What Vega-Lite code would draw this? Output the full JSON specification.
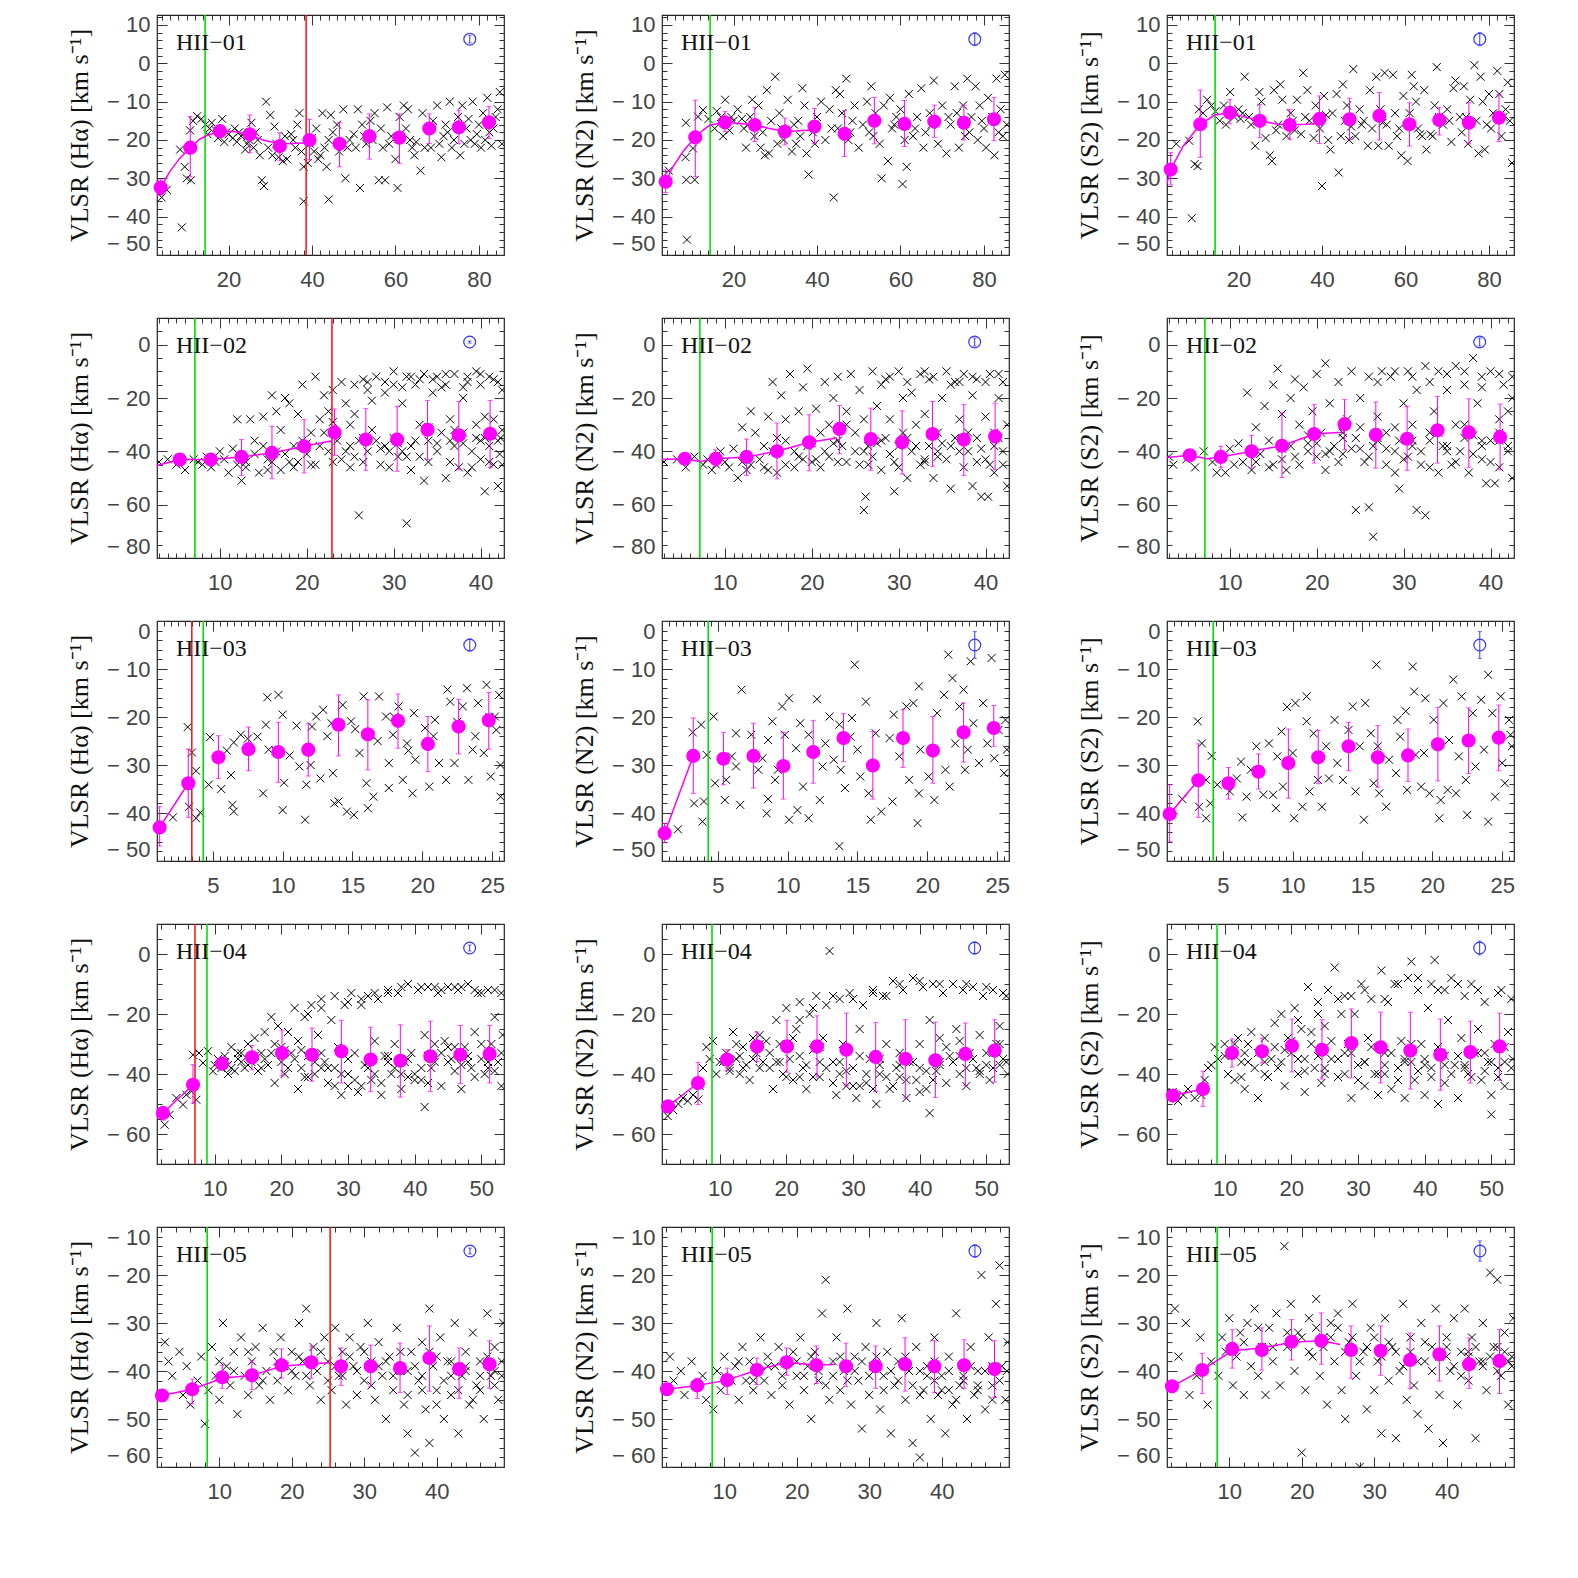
{
"$schema":"https://vega.github.io/schema/vega-lite/v6.json",
"autosize":{"type":"none"},
"padding":{"left":157,"top":15,"right":1421,"bottom":1563},
"background":"white",
"columns":3,
"spacing":{"row":63,"column":158},
"bounds":"flush",
"datasets":{
"s11":[{"x":4,"y":-35},{"x":5.2,"y":-33},{"x":8.8,"y":-42.8},{"x":8.4,"y":-22.5},{"x":9.5,"y":-27},{"x":10,"y":-30},{"x":11,"y":-30.5},{"x":10.8,"y":-17.5},{"x":11.5,"y":-15},{"x":12.5,"y":-13.8},{"x":13.5,"y":-14.5},{"x":14.5,"y":-16},{"x":15.5,"y":-17},{"x":16,"y":-15.5},{"x":17,"y":-17.5},{"x":18.5,"y":-14.5},{"x":19,"y":-20.5},{"x":20,"y":-18.5},{"x":21,"y":-19.5},{"x":21.5,"y":-17},{"x":22.5,"y":-18},{"x":23,"y":-19},{"x":24,"y":-22.5},{"x":24.5,"y":-21},{"x":25.5,"y":-15.5},{"x":26,"y":-22},{"x":27,"y":-20},{"x":28,"y":-30.5},{"x":28.5,"y":-32},{"x":29,"y":-10},{"x":30,"y":-13.5},{"x":30.5,"y":-24},{"x":31,"y":-16.5},{"x":32,"y":-24.5},{"x":33,"y":-25.5},{"x":34,"y":-25},{"x":35,"y":-18.5},{"x":35.5,"y":-20},{"x":36.5,"y":-16},{"x":37,"y":-13},{"x":37.5,"y":-23},{"x":38,"y":-27},{"x":38,"y":-36},{"x":39,"y":-26},{"x":40,"y":-19.5},{"x":40.5,"y":-23},{"x":41,"y":-17},{"x":42,"y":-24},{"x":42.5,"y":-13},{"x":43,"y":-22},{"x":43.5,"y":-27},{"x":44,"y":-35.5},{"x":44.5,"y":-13.5},{"x":45,"y":-18},{"x":46,"y":-16},{"x":46.5,"y":-23},{"x":47.5,"y":-12},{"x":48,"y":-30},{"x":48.5,"y":-22},{"x":50,"y":-18.5},{"x":51,"y":-12},{"x":51.5,"y":-32.5},{"x":52,"y":-16},{"x":53,"y":-21},{"x":54,"y":-15},{"x":55,"y":-13},{"x":56,"y":-30.5},{"x":56.5,"y":-17},{"x":57,"y":-22},{"x":57.5,"y":-30.5},{"x":58,"y":-11.5},{"x":59,"y":-19},{"x":60,"y":-25},{"x":60.5,"y":-32.5},{"x":61,"y":-14},{"x":62,"y":-11},{"x":62.5,"y":-17},{"x":63,"y":-12},{"x":64,"y":-22},{"x":64.5,"y":-24},{"x":65,"y":-20.5},{"x":66,"y":-28},{"x":66.5,"y":-13},{"x":67,"y":-22},{"x":68,"y":-17},{"x":69,"y":-15},{"x":70,"y":-11},{"x":71,"y":-24.5},{"x":71.5,"y":-19},{"x":72,"y":-16},{"x":73,"y":-10},{"x":73.5,"y":-22},{"x":74,"y":-20},{"x":75,"y":-14},{"x":75.5,"y":-24},{"x":76,"y":-11},{"x":77,"y":-17},{"x":77.5,"y":-14.5},{"x":78,"y":-20},{"x":78.5,"y":-10},{"x":79,"y":-21},{"x":80,"y":-16},{"x":80.5,"y":-22},{"x":81,"y":-13},{"x":82,"y":-9},{"x":82.5,"y":-18},{"x":83,"y":-21.5},{"x":84,"y":-14},{"x":84.5,"y":-12},{"x":85,"y":-7.5},{"x":85.5,"y":-21},{"x":15,"y":-18.5},{"x":17.5,"y":-19.5},{"x":19.5,"y":-18},{"x":22,"y":-20.5},{"x":25,"y":-20},{"x":26.5,"y":-18},{"x":27.5,"y":-24},{"x":29.5,"y":-22},{"x":31.5,"y":-21},{"x":33.5,"y":-19},{"x":36,"y":-22},{"x":39.5,"y":-21},{"x":41.5,"y":-25},{"x":44,"y":-20},{"x":47,"y":-21},{"x":49,"y":-20},{"x":50.5,"y":-22},{"x":52.5,"y":-19},{"x":54.5,"y":-20},{"x":58.5,"y":-21},{"x":63.5,"y":-20},{"x":68.5,"y":-22},{"x":70.5,"y":-21},{"x":72.5,"y":-18},{"x":76.5,"y":-21},{"x":79.5,"y":-18.5},{"x":81.5,"y":-20},{"x":83.5,"y":-17}],
"s12":[{"x":4.5,"y":-28},{"x":8.5,"y":-24.5},{"x":8.7,"y":-30.4},{"x":8.85,"y":-46},{"x":8.6,"y":-15.5},{"x":10.3,"y":-22.2},{"x":10.7,"y":-30.4},{"x":11.5,"y":-13.9},{"x":12.7,"y":-12.2},{"x":14,"y":-14.5},{"x":15.5,"y":-17},{"x":16,"y":-12.5},{"x":17,"y":-14},{"x":17.5,"y":-19},{"x":18,"y":-9.5},{"x":19,"y":-17.5},{"x":20,"y":-15},{"x":21,"y":-12},{"x":22,"y":-14.5},{"x":22.5,"y":-17},{"x":23,"y":-22},{"x":24,"y":-14},{"x":24.5,"y":-9.5},{"x":25,"y":-19},{"x":26,"y":-11},{"x":26.5,"y":-22},{"x":27.5,"y":-24},{"x":28,"y":-7},{"x":28.5,"y":-23.5},{"x":29,"y":-15},{"x":30,"y":-3.5},{"x":30.5,"y":-21},{"x":31,"y":-13},{"x":32,"y":-20},{"x":33,"y":-9.5},{"x":34,"y":-23},{"x":34.5,"y":-16},{"x":35,"y":-21},{"x":36,"y":-19},{"x":36.5,"y":-6.5},{"x":37,"y":-11},{"x":37.5,"y":-23.5},{"x":38,"y":-29},{"x":39,"y":-18},{"x":40,"y":-14},{"x":41,"y":-10},{"x":42,"y":-20},{"x":43,"y":-12},{"x":44,"y":-35},{"x":44.5,"y":-7},{"x":45,"y":-17},{"x":45.5,"y":-8},{"x":46,"y":-13},{"x":47,"y":-4},{"x":47.5,"y":-20},{"x":48,"y":-18},{"x":49,"y":-11},{"x":50,"y":-22},{"x":51,"y":-16},{"x":52,"y":-10},{"x":53,"y":-6},{"x":53.5,"y":-19},{"x":54,"y":-13},{"x":55,"y":-21},{"x":55.5,"y":-30},{"x":56,"y":-11},{"x":57,"y":-25.5},{"x":57.5,"y":-9},{"x":58,"y":-17},{"x":59,"y":-14},{"x":60,"y":-12},{"x":60.5,"y":-31.5},{"x":61,"y":-20},{"x":61.5,"y":-27},{"x":62,"y":-8},{"x":63,"y":-19},{"x":64,"y":-14},{"x":65,"y":-6.5},{"x":65.5,"y":-22},{"x":66,"y":-18},{"x":67,"y":-13},{"x":68,"y":-4.5},{"x":69,"y":-21},{"x":70,"y":-11},{"x":71,"y":-23.5},{"x":72,"y":-16},{"x":73,"y":-6},{"x":73.5,"y":-13},{"x":74,"y":-22},{"x":75,"y":-11},{"x":76,"y":-4},{"x":76.5,"y":-18},{"x":77,"y":-14},{"x":78,"y":-6},{"x":78.5,"y":-20},{"x":79,"y":-11},{"x":80,"y":-17},{"x":80.5,"y":-22},{"x":81,"y":-9},{"x":82,"y":-14},{"x":82.5,"y":-24},{"x":83,"y":-4},{"x":84,"y":-12},{"x":84.5,"y":-19},{"x":85,"y":-3},{"x":85.5,"y":-16},{"x":19.5,"y":-14},{"x":23.5,"y":-16},{"x":27,"y":-18},{"x":31.5,"y":-17},{"x":35.5,"y":-15},{"x":39.5,"y":-21},{"x":43.5,"y":-17},{"x":48.5,"y":-15},{"x":52.5,"y":-18},{"x":58.5,"y":-16},{"x":63.5,"y":-17},{"x":67.5,"y":-16},{"x":71.5,"y":-14},{"x":75.5,"y":-19},{"x":79.5,"y":-15},{"x":83.5,"y":-18}],
"s13":[{"x":5.1,"y":-21},{"x":8.2,"y":-20.2},{"x":8.8,"y":-40.4},{"x":9.5,"y":-26.3},{"x":10.2,"y":-26.8},{"x":10.5,"y":-12},{"x":11.5,"y":-13},{"x":12.5,"y":-9.5},{"x":13.5,"y":-11},{"x":14.5,"y":-12.5},{"x":15.5,"y":-15},{"x":16.5,"y":-11},{"x":17,"y":-16},{"x":18,"y":-7.5},{"x":19,"y":-14},{"x":20,"y":-12},{"x":21,"y":-13},{"x":21.5,"y":-3.5},{"x":22.5,"y":-14},{"x":23,"y":-16},{"x":24,"y":-21.5},{"x":25,"y":-7.5},{"x":25.5,"y":-10},{"x":26.5,"y":-19.5},{"x":27.5,"y":-24},{"x":28,"y":-25.5},{"x":28.5,"y":-7},{"x":29,"y":-17.5},{"x":30,"y":-5.5},{"x":30.5,"y":-9.5},{"x":31.5,"y":-19},{"x":32.5,"y":-13},{"x":33.5,"y":-17.5},{"x":34,"y":-9.5},{"x":35,"y":-18.5},{"x":35.5,"y":-2.5},{"x":36.5,"y":-7},{"x":37,"y":-15},{"x":38,"y":-19.5},{"x":38.5,"y":-11},{"x":39.5,"y":-17},{"x":40,"y":-32},{"x":40.5,"y":-8.5},{"x":41.5,"y":-20},{"x":42,"y":-22.5},{"x":42.5,"y":-13},{"x":43.5,"y":-8},{"x":44,"y":-28.5},{"x":44.5,"y":-19},{"x":45,"y":-5.5},{"x":46,"y":-11},{"x":46.5,"y":-20},{"x":47,"y":-16.5},{"x":47.5,"y":-1.5},{"x":48,"y":-19},{"x":49,"y":-12},{"x":50,"y":-15},{"x":51,"y":-21.5},{"x":51.5,"y":-7},{"x":52,"y":-17},{"x":53,"y":-3.5},{"x":53.5,"y":-21.5},{"x":54,"y":-12},{"x":55,"y":-2.5},{"x":55.5,"y":-16},{"x":56,"y":-21.5},{"x":57,"y":-3},{"x":57.5,"y":-13},{"x":58,"y":-19},{"x":59,"y":-24},{"x":59.5,"y":-8.5},{"x":60.5,"y":-25.5},{"x":61,"y":-13},{"x":61.5,"y":-3},{"x":62,"y":-6},{"x":62.5,"y":-10},{"x":63,"y":-17},{"x":64,"y":-19},{"x":64.5,"y":-7},{"x":65,"y":-22.5},{"x":66,"y":-18.5},{"x":67,"y":-11},{"x":67.5,"y":-1},{"x":68,"y":-14},{"x":69,"y":-16},{"x":70,"y":-12},{"x":71,"y":-20.5},{"x":71.5,"y":-6.5},{"x":72,"y":-4.5},{"x":73,"y":-14},{"x":73.5,"y":-18},{"x":74,"y":-6},{"x":75,"y":-21},{"x":75.5,"y":-9.5},{"x":76.5,"y":-0.5},{"x":77,"y":-15},{"x":77.5,"y":-23.5},{"x":78,"y":-3.5},{"x":78.5,"y":-10},{"x":79,"y":-22.5},{"x":80,"y":-8},{"x":80.5,"y":-17},{"x":81,"y":-13},{"x":82,"y":-2},{"x":82.5,"y":-8},{"x":83,"y":-19},{"x":84,"y":-12},{"x":84.5,"y":-5},{"x":85,"y":-15},{"x":85.5,"y":-26},{"x":20.5,"y":-14.5},{"x":24.5,"y":-15},{"x":29.5,"y":-16},{"x":33,"y":-15},{"x":36,"y":-14},{"x":41,"y":-13.5},{"x":45.5,"y":-15},{"x":49.5,"y":-16},{"x":54.5,"y":-15.5},{"x":58.5,"y":-17},{"x":63.5,"y":-18.5},{"x":66.5,"y":-19},{"x":70.5,"y":-15},{"x":74.5,"y":-14},{"x":79.5,"y":-16},{"x":83.5,"y":-14}],
"s21":[{"x":3,"y":-44},{"x":4,"y":-43},{"x":5,"y":-45},{"x":6,"y":-47},{"x":7,"y":-43},{"x":7.5,"y":-44},{"x":8,"y":-45},{"x":8.5,"y":-42},{"x":9,"y":-46},{"x":9.5,"y":-44},{"x":10,"y":-40},{"x":10.5,"y":-43},{"x":11,"y":-48},{"x":11.5,"y":-39},{"x":12,"y":-45},{"x":12.5,"y":-51},{"x":12,"y":-28},{"x":13,"y":-44},{"x":13.5,"y":-28},{"x":14,"y":-36},{"x":14.5,"y":-48},{"x":15,"y":-27},{"x":15.5,"y":-43},{"x":15.5,"y":-47},{"x":16,"y":-19},{"x":16.5,"y":-25},{"x":17,"y":-47},{"x":17,"y":-32},{"x":17.5,"y":-20},{"x":18,"y":-22},{"x":18.5,"y":-38},{"x":19,"y":-26},{"x":19,"y":-44},{"x":19.5,"y":-15},{"x":20,"y":-41},{"x":20.5,"y":-33},{"x":21,"y":-12},{"x":21,"y":-45},{"x":21.5,"y":-28},{"x":22,"y":-19},{"x":22.5,"y":-40},{"x":22.5,"y":-25},{"x":23,"y":-17},{"x":23.5,"y":-36},{"x":24,"y":-14},{"x":24,"y":-43},{"x":24.5,"y":-22},{"x":25,"y":-38},{"x":25.5,"y":-15},{"x":25.5,"y":-42},{"x":26,"y":-64},{"x":26.5,"y":-13},{"x":26.5,"y":-35},{"x":27,"y":-40},{"x":27.5,"y":-21},{"x":28,"y":-12},{"x":28,"y":-36},{"x":28.5,"y":-45},{"x":29,"y":-18},{"x":29.5,"y":-40},{"x":30,"y":-10},{"x":30,"y":-35},{"x":30.5,"y":-42},{"x":31,"y":-22},{"x":31.5,"y":-67},{"x":31.5,"y":-12},{"x":32,"y":-47},{"x":32,"y":-38},{"x":32.5,"y":-15},{"x":33,"y":-30},{"x":33.5,"y":-11},{"x":33.5,"y":-51},{"x":34,"y":-36},{"x":34.5,"y":-18},{"x":35,"y":-12},{"x":35,"y":-40},{"x":35.5,"y":-33},{"x":36,"y":-50},{"x":36,"y":-15},{"x":36.5,"y":-28},{"x":37,"y":-11},{"x":37,"y":-38},{"x":37.5,"y":-46},{"x":38,"y":-20},{"x":38,"y":-33},{"x":38.5,"y":-12},{"x":38.5,"y":-48},{"x":39,"y":-40},{"x":39.5,"y":-10},{"x":39.5,"y":-30},{"x":40,"y":-43},{"x":40,"y":-15},{"x":40.5,"y":-55},{"x":40.5,"y":-35},{"x":41,"y":-12},{"x":41,"y":-38},{"x":41.5,"y":-28},{"x":42,"y":-14},{"x":42,"y":-53},{"x":42.2,"y":-41},{"x":42.5,"y":-17},{"x":42.5,"y":-32},{"x":16.5,"y":-40},{"x":18,"y":-44},{"x":20,"y":-37},{"x":23,"y":-44},{"x":25,"y":-30},{"x":27,"y":-14},{"x":29,"y":-38},{"x":31,"y":-40},{"x":33,"y":-42},{"x":34.5,"y":-13},{"x":36.5,"y":-36},{"x":38,"y":-16},{"x":40,"y":-36},{"x":41.5,"y":-45},{"x":42.3,"y":-35},{"x":13,"y":-46},{"x":14,"y":-41},{"x":15,"y":-38},{"x":16,"y":-44},{"x":17.5,"y":-41},{"x":18.5,"y":-46},{"x":19.5,"y":-36},{"x":20.5,"y":-45},{"x":21.5,"y":-38},{"x":22,"y":-33},{"x":23,"y":-29},{"x":24.5,"y":-40},{"x":25,"y":-46},{"x":25.5,"y":-26},{"x":26,"y":-36},{"x":26.5,"y":-44},{"x":27,"y":-17},{"x":27.5,"y":-32},{"x":28.5,"y":-39},{"x":29,"y":-14},{"x":29.5,"y":-46},{"x":30.5,"y":-37},{"x":31,"y":-16},{"x":31.5,"y":-42},{"x":32.5,"y":-36},{"x":33,"y":-13},{"x":34,"y":-44},{"x":34,"y":-31},{"x":35,"y":-37},{"x":35.5,"y":-16},{"x":36.5,"y":-44},{"x":37,"y":-32},{"x":38,"y":-37},{"x":38.5,"y":-14},{"x":39,"y":-46},{"x":39.5,"y":-35},{"x":40.5,"y":-27},{"x":41,"y":-44},{"x":41.5,"y":-13},{"x":42,"y":-36},{"x":42.5,"y":-45},{"x":30,"y":-15},{"x":32,"y":-12},{"x":36,"y":-11},{"x":40,"y":-11}],
"s22":[{"x":3,"y":-44},{"x":4.5,"y":-43},{"x":5.5,"y":-46},{"x":6.5,"y":-42},{"x":7.5,"y":-45},{"x":8,"y":-43},{"x":8.5,"y":-47},{"x":9,"y":-45},{"x":9.5,"y":-40},{"x":10,"y":-44},{"x":10.5,"y":-46},{"x":11,"y":-39},{"x":11.5,"y":-50},{"x":12,"y":-31},{"x":12,"y":-44},{"x":12.5,"y":-47},{"x":13,"y":-25},{"x":13.5,"y":-33},{"x":14,"y":-43},{"x":14.5,"y":-38},{"x":15,"y":-27},{"x":15,"y":-47},{"x":15.5,"y":-14},{"x":16,"y":-35},{"x":16,"y":-48},{"x":16.5,"y":-19},{"x":17,"y":-45},{"x":17,"y":-28},{"x":17.5,"y":-11},{"x":18,"y":-40},{"x":18.5,"y":-25},{"x":19,"y":-43},{"x":19,"y":-16},{"x":19.5,"y":-9},{"x":20,"y":-37},{"x":20.5,"y":-24},{"x":21,"y":-46},{"x":21.5,"y":-14},{"x":22,"y":-30},{"x":22,"y":-42},{"x":22.5,"y":-20},{"x":23,"y":-12},{"x":23.5,"y":-38},{"x":24,"y":-25},{"x":24,"y":-44},{"x":24.5,"y":-11},{"x":25,"y":-33},{"x":25.5,"y":-17},{"x":25.5,"y":-45},{"x":26,"y":-62},{"x":26.2,"y":-57},{"x":26.5,"y":-38},{"x":27,"y":-10},{"x":27,"y":-42},{"x":27.5,"y":-23},{"x":28,"y":-47},{"x":28.5,"y":-13},{"x":28.5,"y":-35},{"x":29,"y":-28},{"x":29.5,"y":-55},{"x":29.5,"y":-44},{"x":30,"y":-10},{"x":30,"y":-38},{"x":30.5,"y":-20},{"x":31,"y":-50},{"x":31,"y":-14},{"x":31.5,"y":-40},{"x":32,"y":-30},{"x":32.5,"y":-11},{"x":32.5,"y":-45},{"x":33,"y":-26},{"x":33.5,"y":-38},{"x":34,"y":-50},{"x":34,"y":-12},{"x":34.5,"y":-33},{"x":35,"y":-20},{"x":35.5,"y":-43},{"x":35.5,"y":-10},{"x":36,"y":-54},{"x":36.5,"y":-35},{"x":36.5,"y":-14},{"x":37,"y":-28},{"x":37.5,"y":-46},{"x":37.5,"y":-11},{"x":38,"y":-40},{"x":38.5,"y":-19},{"x":38.5,"y":-53},{"x":39,"y":-35},{"x":39,"y":-13},{"x":39.5,"y":-57},{"x":40,"y":-43},{"x":40,"y":-27},{"x":40.3,"y":-57},{"x":40.5,"y":-11},{"x":41,"y":-38},{"x":41,"y":-48},{"x":41.5,"y":-20},{"x":42,"y":-14},{"x":42,"y":-45},{"x":42.5,"y":-53},{"x":42.5,"y":-30},{"x":18.5,"y":-42},{"x":20,"y":-44},{"x":21.5,"y":-40},{"x":23,"y":-36},{"x":26,"y":-40},{"x":28,"y":-36},{"x":29,"y":-41},{"x":31,"y":-35},{"x":33,"y":-43},{"x":34.5,"y":-40},{"x":36,"y":-38},{"x":37.5,"y":-36},{"x":39,"y":-44},{"x":41.5,"y":-35},{"x":13,"y":-45},{"x":14.5,"y":-46},{"x":15.5,"y":-40},{"x":17,"y":-36},{"x":18,"y":-46},{"x":19.5,"y":-38},{"x":20.5,"y":-43},{"x":21,"y":-33},{"x":22.5,"y":-37},{"x":23,"y":-44},{"x":24,"y":-30},{"x":25,"y":-40},{"x":26,"y":-28},{"x":26.5,"y":-45},{"x":27.5,"y":-37},{"x":28,"y":-15},{"x":29,"y":-41},{"x":30,"y":-46},{"x":30.5,"y":-33},{"x":31.5,"y":-18},{"x":32,"y":-38},{"x":33,"y":-44},{"x":33.5,"y":-13},{"x":34.5,"y":-42},{"x":35,"y":-37},{"x":36,"y":-15},{"x":37,"y":-40},{"x":38,"y":-33},{"x":38.5,"y":-12},{"x":39.5,"y":-39},{"x":40.5,"y":-45},{"x":41,"y":-33},{"x":41.5,"y":-11},{"x":42,"y":-40},{"x":29,"y":-12},{"x":33,"y":-10},{"x":37,"y":-14},{"x":40,"y":-14}],
"s23":[{"x":3,"y":-42},{"x":3.5,"y":-45},{"x":5,"y":-43},{"x":6,"y":-46},{"x":7,"y":-40},{"x":8,"y":-44},{"x":8.5,"y":-48},{"x":9,"y":-42},{"x":9.5,"y":-48},{"x":10,"y":-39},{"x":10.5,"y":-45},{"x":11,"y":-37},{"x":11.5,"y":-44},{"x":12,"y":-18},{"x":12.5,"y":-47},{"x":13,"y":-31},{"x":13.5,"y":-41},{"x":14,"y":-23},{"x":14.5,"y":-36},{"x":15,"y":-15},{"x":15,"y":-45},{"x":15.5,"y":-9},{"x":16,"y":-26},{"x":16,"y":-39},{"x":16.5,"y":-47},{"x":17,"y":-20},{"x":17.5,"y":-13},{"x":17.5,"y":-42},{"x":18,"y":-30},{"x":18.5,"y":-16},{"x":19,"y":-40},{"x":19.5,"y":-25},{"x":20,"y":-11},{"x":20,"y":-42},{"x":20.5,"y":-33},{"x":21,"y":-7},{"x":21,"y":-47},{"x":21.5,"y":-22},{"x":22,"y":-38},{"x":22.5,"y":-14},{"x":23,"y":-41},{"x":23.5,"y":-28},{"x":24,"y":-10},{"x":24.5,"y":-62},{"x":24.5,"y":-35},{"x":25,"y":-20},{"x":25.5,"y":-44},{"x":26,"y":-61},{"x":26,"y":-12},{"x":26.5,"y":-72},{"x":26.5,"y":-38},{"x":27,"y":-27},{"x":27.5,"y":-10},{"x":28,"y":-45},{"x":28,"y":-33},{"x":28.5,"y":-12},{"x":29,"y":-48},{"x":29.5,"y":-54},{"x":29.5,"y":-36},{"x":30,"y":-22},{"x":30.5,"y":-10},{"x":30.5,"y":-42},{"x":31,"y":-30},{"x":31.5,"y":-62},{"x":31.5,"y":-17},{"x":32,"y":-45},{"x":32.5,"y":-64},{"x":32.5,"y":-8},{"x":33,"y":-36},{"x":33.5,"y":-25},{"x":34,"y":-48},{"x":34,"y":-10},{"x":34.5,"y":-38},{"x":35,"y":-17},{"x":35.5,"y":-45},{"x":36,"y":-30},{"x":36,"y":-8},{"x":36.5,"y":-40},{"x":37,"y":-15},{"x":37.5,"y":-48},{"x":38,"y":-34},{"x":38,"y":-5},{"x":38.5,"y":-22},{"x":39,"y":-43},{"x":39,"y":-12},{"x":39.5,"y":-52},{"x":40,"y":-10},{"x":40,"y":-36},{"x":40.5,"y":-52},{"x":41,"y":-28},{"x":41,"y":-46},{"x":41.5,"y":-15},{"x":42,"y":-40},{"x":42,"y":-25},{"x":42.5,"y":-50},{"x":42.5,"y":-12},{"x":19,"y":-37},{"x":21,"y":-41},{"x":23,"y":-35},{"x":25,"y":-39},{"x":27,"y":-36},{"x":29,"y":-40},{"x":31,"y":-38},{"x":33,"y":-33},{"x":35,"y":-40},{"x":37,"y":-35},{"x":39,"y":-38},{"x":41,"y":-36},{"x":13,"y":-44},{"x":14.5,"y":-46},{"x":16,"y":-43},{"x":17,"y":-38},{"x":18,"y":-45},{"x":19,"y":-34},{"x":20,"y":-37},{"x":21.5,"y":-40},{"x":22.5,"y":-44},{"x":23,"y":-33},{"x":24,"y":-39},{"x":25,"y":-31},{"x":26,"y":-42},{"x":27,"y":-35},{"x":28,"y":-39},{"x":29,"y":-31},{"x":30,"y":-43},{"x":31,"y":-36},{"x":32,"y":-40},{"x":33,"y":-46},{"x":34,"y":-33},{"x":35,"y":-38},{"x":36,"y":-44},{"x":37,"y":-30},{"x":38,"y":-41},{"x":39,"y":-36},{"x":40,"y":-44},{"x":41,"y":-33},{"x":42,"y":-38},{"x":27,"y":-14},{"x":29,"y":-10},{"x":31,"y":-12},{"x":33,"y":-14},{"x":35,"y":-11},{"x":37,"y":-10},{"x":39,"y":-16},{"x":41,"y":-11},{"x":42.5,"y":-20}],
"s31":[{"x":2.14,"y":-40.9},{"x":3.2,"y":-22.1},{"x":3.5,"y":-27.4},{"x":3.3,"y":-38.7},{"x":3.8,"y":-31.2},{"x":3.8,"y":-41.1},{"x":4.1,"y":-39.9},{"x":4.8,"y":-24.2},{"x":4.7,"y":-34.1},{"x":5.6,"y":-35},{"x":6,"y":-27},{"x":6.3,"y":-32.1},{"x":6.4,"y":-38.3},{"x":6.5,"y":-39.7},{"x":6.5,"y":-25.3},{"x":7,"y":-23.7},{"x":8.2,"y":-24.1},{"x":8.6,"y":-35.9},{"x":8.9,"y":-15.9},{"x":8.8,"y":-21.6},{"x":9,"y":-26.8},{"x":9.7,"y":-15.4},{"x":10,"y":-19.5},{"x":10,"y":-39.4},{"x":10.1,"y":-33.7},{"x":11,"y":-21.8},{"x":11.2,"y":-30.3},{"x":11.6,"y":-41.4},{"x":11.7,"y":-34.1},{"x":12.1,"y":-22},{"x":12.4,"y":-19.9},{"x":12.7,"y":-32.8},{"x":12.9,"y":-18.5},{"x":13.5,"y":-21.3},{"x":13.6,"y":-31.7},{"x":13.7,"y":-38},{"x":14,"y":-37.6},{"x":14.3,"y":-17.5},{"x":14.6,"y":-39.7},{"x":14.9,"y":-20.9},{"x":15.1,"y":-40.4},{"x":15.5,"y":-27.5},{"x":15.8,"y":-15.7},{"x":16,"y":-33.8},{"x":16.1,"y":-39},{"x":16.3,"y":-23.7},{"x":16.5,"y":-36.6},{"x":16.9,"y":-15.7},{"x":17.4,"y":-19.9},{"x":17.6,"y":-29.6},{"x":17.6,"y":-34.8},{"x":17.9,"y":-23.7},{"x":18.3,"y":-17.8},{"x":18.6,"y":-33.1},{"x":18.9,"y":-25.5},{"x":19.3,"y":-35.9},{"x":19.4,"y":-19.2},{"x":19.5,"y":-28.9},{"x":20.2,"y":-22.3},{"x":20.5,"y":-34.5},{"x":20.9,"y":-20.6},{"x":21.2,"y":-29.6},{"x":21.7,"y":-33.1},{"x":21.8,"y":-14.3},{"x":22,"y":-16.8},{"x":22.3,"y":-29.6},{"x":22.9,"y":-17.8},{"x":23.2,"y":-14},{"x":23.3,"y":-33.1},{"x":23.6,"y":-26.8},{"x":24,"y":-17.1},{"x":24.4,"y":-27.5},{"x":24.6,"y":-13.3},{"x":24.9,"y":-32.4},{"x":25.3,"y":-22.7},{"x":25.5,"y":-15.4},{"x":25.6,"y":-30},{"x":25.6,"y":-36.6},{"x":25.2,"y":-19.9},{"x":7.5,"y":-24.5},{"x":9.5,"y":-27},{"x":10.5,"y":-28},{"x":12,"y":-30},{"x":13.2,"y":-24},{"x":15.2,"y":-22.5},{"x":16.8,"y":-25},{"x":18,"y":-20},{"x":19,"y":-27},{"x":20.8,"y":-24},{"x":22.5,"y":-21},{"x":23.8,"y":-24},{"x":24.8,"y":-20}],
"s32":[{"x":2.14,"y":-43.4},{"x":3.2,"y":-23.2},{"x":3.3,"y":-38},{"x":3.8,"y":-21.6},{"x":3.9,"y":-41.8},{"x":4,"y":-37.6},{"x":4.2,"y":-27.9},{"x":4.7,"y":-19.9},{"x":4.8,"y":-33.8},{"x":5.5,"y":-37.3},{"x":5.6,"y":-33.1},{"x":6,"y":-28.2},{"x":6.3,"y":-23.4},{"x":6.3,"y":-30.3},{"x":6.7,"y":-14.3},{"x":6.6,"y":-38.3},{"x":7.4,"y":-23.7},{"x":7.9,"y":-31},{"x":8.2,"y":-28.6},{"x":8.5,"y":-40.1},{"x":8.6,"y":-24.8},{"x":8.6,"y":-37.1},{"x":8.9,"y":-20.9},{"x":9.1,"y":-33.1},{"x":9.3,"y":-31},{"x":9.6,"y":-17.8},{"x":9.8,"y":-23.7},{"x":10.1,"y":-16.1},{"x":10.1,"y":-41.4},{"x":10.6,"y":-26.5},{"x":10.7,"y":-39.4},{"x":10.9,"y":-21.3},{"x":11.1,"y":-34.5},{"x":11.5,"y":-23.7},{"x":11.5,"y":-41.1},{"x":12.1,"y":-16.3},{"x":12.3,"y":-37.3},{"x":12.5,"y":-30.3},{"x":12.7,"y":-25.5},{"x":13,"y":-19.9},{"x":13.3,"y":-28.9},{"x":13.7,"y":-21.6},{"x":13.8,"y":-31},{"x":13.7,"y":-46.9},{"x":14.1,"y":-34.8},{"x":14.5,"y":-24.1},{"x":14.8,"y":-9.1},{"x":14.6,"y":-20.2},{"x":15,"y":-26.8},{"x":15.2,"y":-32.4},{"x":15.6,"y":-16.8},{"x":15.8,"y":-35.9},{"x":15.95,"y":-41.4},{"x":16.3,"y":-23.4},{"x":16.7,"y":-39.7},{"x":17.3,"y":-24.4},{"x":17.5,"y":-37.6},{"x":17.6,"y":-19.5},{"x":18,"y":-28.2},{"x":18.5,"y":-17.8},{"x":18.7,"y":-33.1},{"x":19,"y":-17.1},{"x":19.3,"y":-42.1},{"x":19.4,"y":-35.9},{"x":19.4,"y":-13.6},{"x":19.5,"y":-26.8},{"x":20.1,"y":-32.4},{"x":20.5,"y":-37.3},{"x":20.7,"y":-19.2},{"x":21.2,"y":-15.4},{"x":21.3,"y":-31},{"x":21.5,"y":-7},{"x":21.6,"y":-34.5},{"x":21.8,"y":-11.9},{"x":22,"y":-25.5},{"x":22.3,"y":-17.8},{"x":22.6,"y":-14.3},{"x":22.7,"y":-31},{"x":22.9,"y":-26.8},{"x":23.1,"y":-8.4},{"x":23.3,"y":-21.3},{"x":23.7,"y":-29.6},{"x":24,"y":-17.1},{"x":24.3,"y":-25.5},{"x":24.6,"y":-7.7},{"x":24.8,"y":-28.6},{"x":25.1,"y":-22.7},{"x":25.5,"y":-31.7},{"x":25.6,"y":-20.6},{"x":25.7,"y":-26.8}],
"s33":[{"x":2.1,"y":-37.1},{"x":3.2,"y":-20.9},{"x":3.5,"y":-25.5},{"x":3.3,"y":-38.7},{"x":3.8,"y":-33.1},{"x":3.8,"y":-41.1},{"x":4.1,"y":-38},{"x":4.2,"y":-28.1},{"x":4.6,"y":-34.1},{"x":5.5,"y":-35.5},{"x":6,"y":-32.8},{"x":6.3,"y":-29.3},{"x":6.4,"y":-40.9},{"x":6.7,"y":-36.6},{"x":7,"y":-31},{"x":7.4,"y":-26.1},{"x":7.9,"y":-36.2},{"x":8.3,"y":-25.5},{"x":8.6,"y":-36.2},{"x":8.8,"y":-39},{"x":8.9,"y":-28.2},{"x":9.2,"y":-23},{"x":9.3,"y":-34.5},{"x":9.6,"y":-17.9},{"x":10,"y":-27.5},{"x":10.1,"y":-41.1},{"x":10.2,"y":-17.1},{"x":10.7,"y":-38.7},{"x":11,"y":-15.7},{"x":11,"y":-20.9},{"x":11.2,"y":-35.5},{"x":11.5,"y":-23.4},{"x":11.8,"y":-33.1},{"x":12.1,"y":-38.7},{"x":12.4,"y":-26.1},{"x":12.6,"y":-32.8},{"x":13,"y":-20.6},{"x":13.2,"y":-29.6},{"x":13.6,"y":-33.1},{"x":14,"y":-22.7},{"x":14.3,"y":-17.8},{"x":14.5,"y":-35.5},{"x":14.8,"y":-26.1},{"x":15.1,"y":-41.4},{"x":15.2,"y":-17.1},{"x":15.6,"y":-23.4},{"x":15.8,"y":-33.8},{"x":16,"y":-9.1},{"x":16.1,"y":-26.1},{"x":16.2,"y":-35.9},{"x":16.7,"y":-38.7},{"x":16.9,"y":-28.9},{"x":17.4,"y":-31.7},{"x":17.5,"y":-20.6},{"x":17.7,"y":-24.1},{"x":18.1,"y":-18.8},{"x":18.2,"y":-35.2},{"x":18.6,"y":-9.5},{"x":18.7,"y":-14.7},{"x":18.8,"y":-27.9},{"x":19.2,"y":-34.5},{"x":19.4,"y":-27.5},{"x":19.5,"y":-16.1},{"x":19.8,"y":-35.9},{"x":20.1,"y":-20.6},{"x":20.5,"y":-41.1},{"x":20.6,"y":-37.3},{"x":20.8,"y":-17.1},{"x":21.1,"y":-35.2},{"x":21.2,"y":-24.8},{"x":21.5,"y":-12.2},{"x":21.7,"y":-35.9},{"x":21.9,"y":-28.2},{"x":22.1,"y":-15.7},{"x":22.4,"y":-33.1},{"x":22.5,"y":-40.4},{"x":22.9,"y":-19.2},{"x":23.1,"y":-30.3},{"x":23.5,"y":-16.4},{"x":23.7,"y":-26.8},{"x":24,"y":-11.2},{"x":24,"y":-41.8},{"x":24.3,"y":-19.2},{"x":24.5,"y":-36.6},{"x":24.9,"y":-15.7},{"x":25,"y":-29.6},{"x":25.2,"y":-33.8},{"x":25.5,"y":-20.6},{"x":25.6,"y":-23.7},{"x":25.7,"y":-26.1}],
"s41":[{"x":2.5,"y":-56.9},{"x":3.25,"y":-53.6},{"x":4.25,"y":-48},{"x":5.25,"y":-50.2},{"x":5.75,"y":-46.9},{"x":6.5,"y":-45.8},{"x":7.25,"y":-48.6},{"x":6.75,"y":-33.6},{"x":7.65,"y":-33},{"x":8.25,"y":-36.3},{"x":9,"y":-32.4},{"x":9.75,"y":-39.1},{"x":10.5,"y":-35},{"x":11,"y":-38},{"x":11.5,"y":-34},{"x":12,"y":-37},{"x":12.5,"y":-31},{"x":13,"y":-39},{"x":13.5,"y":-35},{"x":14,"y":-33},{"x":14.5,"y":-38},{"x":15,"y":-30},{"x":15.5,"y":-36},{"x":16,"y":-28},{"x":16.5,"y":-39},{"x":17,"y":-33},{"x":17.5,"y":-26},{"x":18,"y":-37},{"x":18.5,"y":-21},{"x":19,"y":-43},{"x":19,"y":-30},{"x":19.5,"y":-24},{"x":20,"y":-36},{"x":20.5,"y":-40},{"x":21,"y":-26},{"x":21.5,"y":-33},{"x":22,"y":-18},{"x":22.5,"y":-45},{"x":22.5,"y":-29},{"x":23,"y":-38},{"x":23.5,"y":-21},{"x":24,"y":-34},{"x":24.5,"y":-17},{"x":25,"y":-40},{"x":25.5,"y":-27},{"x":26,"y":-15},{"x":26.5,"y":-36},{"x":27,"y":-43},{"x":27.5,"y":-22},{"x":28,"y":-14},{"x":28,"y":-38},{"x":28.5,"y":-31},{"x":29,"y":-47},{"x":29.5,"y":-17},{"x":30,"y":-40},{"x":30.5,"y":-13},{"x":31,"y":-33},{"x":31.5,"y":-46},{"x":32,"y":-17},{"x":32.5,"y":-37},{"x":33,"y":-14},{"x":33.5,"y":-42},{"x":34,"y":-29},{"x":34.5,"y":-15},{"x":35,"y":-47},{"x":35.5,"y":-34},{"x":36,"y":-12},{"x":36.5,"y":-40},{"x":37,"y":-30},{"x":37.5,"y":-13},{"x":38,"y":-45},{"x":38.5,"y":-36},{"x":39,"y":-10},{"x":39.5,"y":-33},{"x":40,"y":-40},{"x":40.5,"y":-12},{"x":41,"y":-42},{"x":41.5,"y":-51},{"x":41.5,"y":-27},{"x":42,"y":-11},{"x":42.5,"y":-38},{"x":43,"y":-30},{"x":43.5,"y":-13},{"x":44,"y":-44},{"x":44.5,"y":-29},{"x":45,"y":-11},{"x":45.5,"y":-35},{"x":46,"y":-39},{"x":46.5,"y":-12},{"x":47,"y":-45},{"x":47.5,"y":-31},{"x":48,"y":-10},{"x":48.5,"y":-38},{"x":49,"y":-26},{"x":49.5,"y":-13},{"x":50,"y":-35},{"x":50.5,"y":-40},{"x":51,"y":-12},{"x":51.5,"y":-30},{"x":52,"y":-21},{"x":52.5,"y":-36},{"x":53,"y":-13},{"x":53,"y":-44},{"x":53.2,"y":-27},{"x":12,"y":-40},{"x":14,"y":-36},{"x":17,"y":-38},{"x":20.5,"y":-32},{"x":23.5,"y":-41},{"x":26,"y":-38},{"x":30,"y":-44},{"x":33,"y":-38},{"x":36,"y":-36},{"x":39,"y":-41},{"x":42,"y":-34},{"x":45,"y":-31},{"x":48,"y":-36},{"x":51,"y":-38},{"x":41,"y":-11},{"x":44,"y":-12},{"x":47,"y":-11},{"x":50,"y":-13},{"x":10,"y":-37},{"x":11.5,"y":-36},{"x":12.5,"y":-38},{"x":13.5,"y":-33},{"x":15,"y":-37},{"x":16,"y":-34},{"x":17.5,"y":-35},{"x":18.5,"y":-33},{"x":20,"y":-31},{"x":21,"y":-38},{"x":22,"y":-35},{"x":23,"y":-32},{"x":24,"y":-41},{"x":25,"y":-36},{"x":26,"y":-33},{"x":27,"y":-38},{"x":28,"y":-44},{"x":29,"y":-40},{"x":30,"y":-35},{"x":31,"y":-42},{"x":32,"y":-44},{"x":33,"y":-36},{"x":34,"y":-40},{"x":35,"y":-43},{"x":36,"y":-34},{"x":37,"y":-38},{"x":38,"y":-40},{"x":39,"y":-35},{"x":40,"y":-42},{"x":41,"y":-38},{"x":42,"y":-43},{"x":43,"y":-36},{"x":44,"y":-33},{"x":45,"y":-36},{"x":46,"y":-31},{"x":47,"y":-37},{"x":48,"y":-34},{"x":49,"y":-41},{"x":50,"y":-30},{"x":51,"y":-36},{"x":52,"y":-39},{"x":53,"y":-33},{"x":24,"y":-20},{"x":26,"y":-18},{"x":30,"y":-16},{"x":32,"y":-15},{"x":34,"y":-13},{"x":36,"y":-13},{"x":38,"y":-11},{"x":43,"y":-11},{"x":46,"y":-11},{"x":49,"y":-12},{"x":52,"y":-12}],
"s42":[{"x":2.2,"y":-54},{"x":3,"y":-52},{"x":3.8,"y":-50},{"x":4.5,"y":-48},{"x":5.2,"y":-49},{"x":6,"y":-47},{"x":6.8,"y":-48.5},{"x":7,"y":-44},{"x":7.5,"y":-38},{"x":8,"y":-31},{"x":8.5,"y":-35},{"x":9,"y":-29},{"x":9.5,"y":-40},{"x":10.5,"y":-36},{"x":11,"y":-33},{"x":11.5,"y":-38},{"x":12,"y":-26},{"x":12.5,"y":-35},{"x":13,"y":-40},{"x":13.5,"y":-31},{"x":14,"y":-37},{"x":14.5,"y":-42},{"x":15,"y":-28},{"x":15.5,"y":-33},{"x":16,"y":-27},{"x":16.5,"y":-36},{"x":17,"y":-29},{"x":17.5,"y":-38},{"x":18,"y":-45},{"x":18.5,"y":-22},{"x":19,"y":-30},{"x":19.5,"y":-40},{"x":20,"y":-18},{"x":20.5,"y":-35},{"x":21,"y":-42},{"x":21.5,"y":-25},{"x":22,"y":-16},{"x":22.5,"y":-38},{"x":23,"y":-45},{"x":23.5,"y":-20},{"x":24,"y":-32},{"x":24.5,"y":-14},{"x":25,"y":-41},{"x":25.5,"y":-28},{"x":26,"y":-17},{"x":26.5,"y":1},{"x":27,"y":-36},{"x":27.5,"y":-47},{"x":28,"y":-15},{"x":28.5,"y":-30},{"x":29,"y":-44},{"x":29.5,"y":-13},{"x":30,"y":-38},{"x":30.5,"y":-48},{"x":31,"y":-25},{"x":31.5,"y":-17},{"x":32,"y":-43},{"x":32.5,"y":-35},{"x":33,"y":-12},{"x":33.5,"y":-50},{"x":34,"y":-40},{"x":34.5,"y":-14},{"x":35,"y":-30},{"x":35.5,"y":-45},{"x":36,"y":-9},{"x":36.5,"y":-38},{"x":37,"y":-33},{"x":37.5,"y":-12},{"x":38,"y":-48},{"x":38.5,"y":-36},{"x":39,"y":-8},{"x":39.5,"y":-42},{"x":40,"y":-30},{"x":40.5,"y":-11},{"x":41,"y":-45},{"x":41.5,"y":-53},{"x":41.5,"y":-22},{"x":42,"y":-10},{"x":42.5,"y":-39},{"x":43,"y":-28},{"x":43.5,"y":-13},{"x":44,"y":-43},{"x":44.5,"y":-34},{"x":45,"y":-10},{"x":45.5,"y":-25},{"x":46,"y":-40},{"x":46.5,"y":-12},{"x":47,"y":-44},{"x":47.5,"y":-33},{"x":48,"y":-11},{"x":48.5,"y":-38},{"x":49,"y":-27},{"x":49.5,"y":-14},{"x":50,"y":-37},{"x":50.5,"y":-42},{"x":51,"y":-12},{"x":51.5,"y":-30},{"x":52,"y":-24},{"x":52.5,"y":-35},{"x":53,"y":-14},{"x":53.2,"y":-40},{"x":13,"y":-34},{"x":16,"y":-38},{"x":19,"y":-36},{"x":22,"y":-41},{"x":25,"y":-36},{"x":28,"y":-40},{"x":31,"y":-44},{"x":34,"y":-37},{"x":37,"y":-41},{"x":40,"y":-38},{"x":43,"y":-36},{"x":46,"y":-34},{"x":49,"y":-39},{"x":52,"y":-37},{"x":10,"y":-36},{"x":11.5,"y":-39},{"x":12.5,"y":-30},{"x":13.5,"y":-38},{"x":15,"y":-35},{"x":16,"y":-30},{"x":17.5,"y":-33},{"x":18.5,"y":-36},{"x":20,"y":-41},{"x":21,"y":-28},{"x":22,"y":-34},{"x":23,"y":-37},{"x":24,"y":-41},{"x":25,"y":-31},{"x":26,"y":-38},{"x":27,"y":-43},{"x":28,"y":-36},{"x":29,"y":-39},{"x":30,"y":-44},{"x":31,"y":-34},{"x":32,"y":-40},{"x":33,"y":-45},{"x":34,"y":-35},{"x":35,"y":-41},{"x":36,"y":-44},{"x":37,"y":-37},{"x":38,"y":-42},{"x":39,"y":-36},{"x":40,"y":-46},{"x":41,"y":-39},{"x":42,"y":-42},{"x":43,"y":-37},{"x":44,"y":-31},{"x":45,"y":-36},{"x":46,"y":-29},{"x":47,"y":-38},{"x":48,"y":-35},{"x":49,"y":-40},{"x":50,"y":-33},{"x":51,"y":-38},{"x":52,"y":-30},{"x":53,"y":-36},{"x":22,"y":-22},{"x":24,"y":-18},{"x":27,"y":-14},{"x":30,"y":-15},{"x":33,"y":-13},{"x":35,"y":-14},{"x":37,"y":-10},{"x":40,"y":-9},{"x":43,"y":-10},{"x":47,"y":-10},{"x":50,"y":-11},{"x":52.5,"y":-13}],
"s43":[{"x":2.2,"y":-46},{"x":3,"y":-49},{"x":3.8,"y":-47},{"x":4.5,"y":-45},{"x":5.5,"y":-48},{"x":6.5,"y":-47},{"x":7,"y":-42},{"x":7.5,"y":-38},{"x":8,"y":-37},{"x":8.5,"y":-31},{"x":9,"y":-35},{"x":10,"y":-30},{"x":10.5,"y":-40},{"x":11,"y":-33},{"x":11.5,"y":-42},{"x":12,"y":-28},{"x":12.5,"y":-36},{"x":13,"y":-45},{"x":13.5,"y":-30},{"x":14,"y":-26},{"x":14.5,"y":-38},{"x":15,"y":-48},{"x":15.5,"y":-32},{"x":16,"y":-28},{"x":16.5,"y":-41},{"x":17,"y":-35},{"x":17.5,"y":-23},{"x":18,"y":-38},{"x":18.5,"y":-20},{"x":19,"y":-44},{"x":19.5,"y":-28},{"x":20,"y":-33},{"x":20.5,"y":-18},{"x":21,"y":-40},{"x":21.5,"y":-25},{"x":22,"y":-46},{"x":22.5,"y":-11},{"x":23,"y":-30},{"x":23.5,"y":-38},{"x":24,"y":-16},{"x":24.5,"y":-43},{"x":25,"y":-24},{"x":25.5,"y":-12},{"x":26,"y":-35},{"x":26.5,"y":-4.5},{"x":27,"y":-41},{"x":27.5,"y":-20},{"x":28,"y":-14},{"x":28.5,"y":-30},{"x":29,"y":-48},{"x":29.5,"y":-20},{"x":30,"y":-37},{"x":30.5,"y":-10},{"x":31,"y":-44},{"x":31.5,"y":-28},{"x":32,"y":-15},{"x":32.5,"y":-40},{"x":33,"y":-47},{"x":33.5,"y":-5.5},{"x":34,"y":-33},{"x":34.5,"y":-16},{"x":35,"y":-45},{"x":35.5,"y":-10},{"x":36,"y":-38},{"x":36.5,"y":-29},{"x":37,"y":-48},{"x":37.5,"y":-8},{"x":38,"y":-2.5},{"x":38,"y":-36},{"x":38.5,"y":-42},{"x":39,"y":-12},{"x":39.5,"y":-30},{"x":40,"y":-47},{"x":40.5,"y":-18},{"x":41,"y":-38},{"x":41.5,"y":-2},{"x":42,"y":-50},{"x":42,"y":-12},{"x":42.5,"y":-33},{"x":43,"y":-43},{"x":43.5,"y":-22},{"x":44,"y":-8},{"x":44.5,"y":-37},{"x":45,"y":-48},{"x":45.5,"y":-28},{"x":46,"y":-14},{"x":46.5,"y":-40},{"x":47,"y":-10},{"x":47.5,"y":-33},{"x":48,"y":-25},{"x":48.5,"y":-42},{"x":49,"y":-16},{"x":49.5,"y":-36},{"x":50,"y":-53.5},{"x":50,"y":-47},{"x":50.5,"y":-30},{"x":51,"y":-38},{"x":51.5,"y":-12},{"x":52,"y":-44},{"x":52.5,"y":-26},{"x":53,"y":-15},{"x":53.2,"y":-35},{"x":13,"y":-33},{"x":16,"y":-36},{"x":19,"y":-32},{"x":22,"y":-35},{"x":25,"y":-38},{"x":28,"y":-33},{"x":31,"y":-36},{"x":34,"y":-40},{"x":37,"y":-35},{"x":40,"y":-37},{"x":43,"y":-34},{"x":46,"y":-37},{"x":49,"y":-33},{"x":52,"y":-36},{"x":10,"y":-34},{"x":11.5,"y":-30},{"x":12.5,"y":-41},{"x":13.5,"y":-36},{"x":15,"y":-33},{"x":16,"y":-40},{"x":17.5,"y":-31},{"x":18.5,"y":-36},{"x":20,"y":-29},{"x":21,"y":-35},{"x":22,"y":-39},{"x":23,"y":-26},{"x":24,"y":-34},{"x":25,"y":-40},{"x":26,"y":-29},{"x":27,"y":-35},{"x":28,"y":-40},{"x":29,"y":-33},{"x":30,"y":-42},{"x":31,"y":-36},{"x":32,"y":-31},{"x":33,"y":-40},{"x":34,"y":-37},{"x":35,"y":-33},{"x":36,"y":-42},{"x":37,"y":-36},{"x":38,"y":-30},{"x":39,"y":-39},{"x":40,"y":-35},{"x":41,"y":-41},{"x":42,"y":-31},{"x":43,"y":-37},{"x":44,"y":-40},{"x":45,"y":-34},{"x":46,"y":-38},{"x":47,"y":-41},{"x":48,"y":-33},{"x":49,"y":-39},{"x":50,"y":-36},{"x":51,"y":-41},{"x":52,"y":-31},{"x":53,"y":-38},{"x":21,"y":-22},{"x":24,"y":-20},{"x":27,"y":-15},{"x":29,"y":-14},{"x":31,"y":-12},{"x":34,"y":-15},{"x":36,"y":-10},{"x":39,"y":-8},{"x":41,"y":-10},{"x":43,"y":-12},{"x":45,"y":-10},{"x":48,"y":-12},{"x":51,"y":-13}],
"s51":[{"x":2.5,"y":-34},{"x":3,"y":-38},{"x":3.5,"y":-41},{"x":4.5,"y":-36},{"x":5,"y":-45},{"x":5.5,"y":-39},{"x":6,"y":-47},{"x":7,"y":-42},{"x":7.5,"y":-37},{"x":8,"y":-51},{"x":8.5,"y":-44},{"x":9,"y":-35},{"x":9.5,"y":-41},{"x":10,"y":-46},{"x":10.5,"y":-30},{"x":11,"y":-39},{"x":11.5,"y":-43},{"x":12,"y":-36},{"x":12.5,"y":-49},{"x":13,"y":-33},{"x":13.5,"y":-41},{"x":14,"y":-45},{"x":14.5,"y":-38},{"x":15,"y":-35},{"x":15.5,"y":-43},{"x":16,"y":-31},{"x":16.5,"y":-40},{"x":17,"y":-46},{"x":17.5,"y":-36},{"x":18,"y":-42},{"x":18.5,"y":-33},{"x":19,"y":-39},{"x":19.5,"y":-44},{"x":20,"y":-36},{"x":20.5,"y":-41},{"x":21,"y":-30},{"x":21.5,"y":-38},{"x":22,"y":-27},{"x":22.5,"y":-43},{"x":23,"y":-35},{"x":23.5,"y":-40},{"x":24,"y":-46},{"x":24.5,"y":-33},{"x":25,"y":-38},{"x":25.5,"y":-44},{"x":26,"y":-31},{"x":26.5,"y":-41},{"x":27,"y":-36},{"x":27.5,"y":-47},{"x":28,"y":-33},{"x":28.5,"y":-39},{"x":29,"y":-45},{"x":29.5,"y":-35},{"x":30,"y":-42},{"x":30.5,"y":-30},{"x":31,"y":-38},{"x":31.5,"y":-46},{"x":32,"y":-34},{"x":32.5,"y":-41},{"x":33,"y":-50},{"x":33.5,"y":-37},{"x":34,"y":-44},{"x":34.5,"y":-31},{"x":35,"y":-40},{"x":35.5,"y":-47},{"x":36,"y":-53},{"x":36.5,"y":-36},{"x":37,"y":-57},{"x":37.5,"y":-42},{"x":38,"y":-34},{"x":38.5,"y":-48},{"x":39,"y":-27},{"x":39,"y":-55},{"x":39.5,"y":-39},{"x":40,"y":-44},{"x":40.5,"y":-33},{"x":41,"y":-50},{"x":41.5,"y":-38},{"x":42,"y":-45},{"x":42.5,"y":-30},{"x":43,"y":-53},{"x":43.5,"y":-41},{"x":44,"y":-36},{"x":44.5,"y":-47},{"x":45,"y":-32},{"x":45.5,"y":-43},{"x":46,"y":-38},{"x":46.5,"y":-50},{"x":47,"y":-28},{"x":47.5,"y":-41},{"x":48,"y":-35},{"x":48.5,"y":-46},{"x":49,"y":-38},{"x":49.2,"y":-30},{"x":36,"y":-40},{"x":38,"y":-44},{"x":40,"y":-37},{"x":42,"y":-41},{"x":44,"y":-39},{"x":46,"y":-44},{"x":48,"y":-40},{"x":20,"y":-40},{"x":21,"y":-37},{"x":22,"y":-41},{"x":23,"y":-38},{"x":24,"y":-36},{"x":25,"y":-42},{"x":26,"y":-39},{"x":27,"y":-41},{"x":28,"y":-37},{"x":29,"y":-40},{"x":30,"y":-36},{"x":31,"y":-43},{"x":32,"y":-39},{"x":33,"y":-38},{"x":34,"y":-41},{"x":35,"y":-36},{"x":36,"y":-45},{"x":37,"y":-39},{"x":38,"y":-41},{"x":39,"y":-36},{"x":40,"y":-47},{"x":41,"y":-42},{"x":42,"y":-38},{"x":43,"y":-44},{"x":44,"y":-40},{"x":45,"y":-46},{"x":46,"y":-41},{"x":47,"y":-37},{"x":48,"y":-43},{"x":49,"y":-41},{"x":10,"y":-38},{"x":12,"y":-40},{"x":14,"y":-36},{"x":16,"y":-42},{"x":18,"y":-38}],
"s52":[{"x":2.5,"y":-37},{"x":3,"y":-42},{"x":4,"y":-40},{"x":4.5,"y":-45},{"x":5.5,"y":-38},{"x":6,"y":-43},{"x":7,"y":-41},{"x":7.5,"y":-46},{"x":8.5,"y":-48},{"x":9,"y":-40},{"x":9.5,"y":-44},{"x":10,"y":-37},{"x":11,"y":-42},{"x":11.5,"y":-39},{"x":12,"y":-46},{"x":12.5,"y":-35},{"x":13,"y":-42},{"x":13.5,"y":-38},{"x":14,"y":-44},{"x":14.5,"y":-40},{"x":15,"y":-33},{"x":15.5,"y":-42},{"x":16,"y":-37},{"x":16.5,"y":-45},{"x":17,"y":-39},{"x":17.5,"y":-35},{"x":18,"y":-43},{"x":18.5,"y":-38},{"x":19,"y":-47},{"x":19.5,"y":-36},{"x":20,"y":-41},{"x":20.5,"y":-33},{"x":21,"y":-44},{"x":21.5,"y":-39},{"x":22,"y":-50},{"x":22.5,"y":-36},{"x":23,"y":-42},{"x":23.5,"y":-28},{"x":24,"y":-21},{"x":24.5,"y":-46},{"x":25,"y":-38},{"x":25.5,"y":-33},{"x":26,"y":-44},{"x":26.5,"y":-40},{"x":27,"y":-27},{"x":27.5,"y":-47},{"x":28,"y":-37},{"x":28.5,"y":-42},{"x":29,"y":-52},{"x":29.5,"y":-35},{"x":30,"y":-45},{"x":30.5,"y":-39},{"x":31,"y":-30},{"x":31.5,"y":-48},{"x":32,"y":-41},{"x":32.5,"y":-36},{"x":33,"y":-53},{"x":33.5,"y":-43},{"x":34,"y":-38},{"x":34.5,"y":-29},{"x":35,"y":-46},{"x":35.5,"y":-40},{"x":36,"y":-55},{"x":36.5,"y":-35},{"x":37,"y":-58},{"x":37.5,"y":-44},{"x":38,"y":-39},{"x":38.5,"y":-50},{"x":39,"y":-33},{"x":39.5,"y":-45},{"x":40,"y":-41},{"x":40.5,"y":-53},{"x":41,"y":-37},{"x":41.5,"y":-47},{"x":42,"y":-28},{"x":42.5,"y":-43},{"x":43,"y":-39},{"x":43.5,"y":-50},{"x":44,"y":-35},{"x":44.5,"y":-45},{"x":45,"y":-40},{"x":45.5,"y":-20},{"x":46,"y":-48},{"x":46.5,"y":-33},{"x":47,"y":-43},{"x":47.5,"y":-26},{"x":48,"y":-18},{"x":48.3,"y":-39},{"x":48.8,"y":-46},{"x":49.1,"y":-34},{"x":37,"y":-40},{"x":39,"y":-42},{"x":41,"y":-44},{"x":43,"y":-41},{"x":45,"y":-43},{"x":47,"y":-39},{"x":20,"y":-38},{"x":21,"y":-41},{"x":22,"y":-37},{"x":23,"y":-40},{"x":24,"y":-43},{"x":25,"y":-41},{"x":26,"y":-37},{"x":27,"y":-42},{"x":28,"y":-40},{"x":29,"y":-38},{"x":30,"y":-41},{"x":31,"y":-37},{"x":32,"y":-44},{"x":33,"y":-40},{"x":34,"y":-42},{"x":35,"y":-37},{"x":36,"y":-43},{"x":37,"y":-45},{"x":38,"y":-41},{"x":39,"y":-38},{"x":40,"y":-44},{"x":41,"y":-40},{"x":42,"y":-46},{"x":43,"y":-42},{"x":44,"y":-39},{"x":45,"y":-44},{"x":46,"y":-40},{"x":47,"y":-46},{"x":48,"y":-42},{"x":49,"y":-40},{"x":10,"y":-41},{"x":12,"y":-38},{"x":14,"y":-42},{"x":16,"y":-39},{"x":18,"y":-41}],
"s53":[{"x":2.5,"y":-27},{"x":3,"y":-37},{"x":4,"y":-30},{"x":4.5,"y":-45},{"x":5.5,"y":-41},{"x":6,"y":-33},{"x":7,"y":-47},{"x":7.5,"y":-38},{"x":8.5,"y":-41},{"x":9,"y":-33},{"x":9.5,"y":-36},{"x":10,"y":-29},{"x":10.5,"y":-43},{"x":11,"y":-37},{"x":11.5,"y":-32},{"x":12,"y":-45},{"x":12.5,"y":-30},{"x":13,"y":-39},{"x":13.5,"y":-27},{"x":14,"y":-41},{"x":14.5,"y":-35},{"x":15,"y":-45},{"x":15.5,"y":-31},{"x":16,"y":-38},{"x":16.5,"y":-28},{"x":17,"y":-43},{"x":17.6,"y":-14},{"x":18,"y":-35},{"x":18.5,"y":-26},{"x":19,"y":-40},{"x":19.5,"y":-32},{"x":20,"y":-57},{"x":20.5,"y":-44},{"x":21,"y":-29},{"x":21.5,"y":-37},{"x":22,"y":-25},{"x":22.5,"y":-41},{"x":23,"y":-33},{"x":23.5,"y":-47},{"x":24,"y":-30},{"x":24.5,"y":-38},{"x":25,"y":-28},{"x":25.5,"y":-44},{"x":26,"y":-50},{"x":26.5,"y":-34},{"x":27,"y":-26},{"x":27.5,"y":-41},{"x":28,"y":-60},{"x":28.5,"y":-36},{"x":29,"y":-48},{"x":29.5,"y":-31},{"x":30,"y":-44},{"x":30.5,"y":-38},{"x":31,"y":-53},{"x":31.5,"y":-29},{"x":32,"y":-42},{"x":32.5,"y":-35},{"x":33,"y":-54},{"x":33.5,"y":-40},{"x":34,"y":-26},{"x":34.5,"y":-46},{"x":35,"y":-33},{"x":35.5,"y":-43},{"x":36,"y":-49},{"x":36.5,"y":-30},{"x":37,"y":-38},{"x":37.5,"y":-52},{"x":38,"y":-35},{"x":38.5,"y":-27},{"x":39,"y":-45},{"x":39.5,"y":-55},{"x":40,"y":-33},{"x":40.5,"y":-40},{"x":41,"y":-29},{"x":41.5,"y":-47},{"x":42,"y":-36},{"x":42.5,"y":-27},{"x":43,"y":-42},{"x":43.5,"y":-33},{"x":44,"y":-54},{"x":44.5,"y":-38},{"x":45,"y":-30},{"x":45.5,"y":-44},{"x":46,"y":-19.5},{"x":46.5,"y":-35},{"x":47,"y":-21},{"x":47.5,"y":-41},{"x":48,"y":-32},{"x":48.5,"y":-47},{"x":49,"y":-37},{"x":49.2,"y":-29},{"x":40,"y":-37},{"x":43,"y":-36},{"x":45,"y":-38},{"x":47,"y":-35},{"x":48.5,"y":-38},{"x":20,"y":-33},{"x":21,"y":-36},{"x":22,"y":-31},{"x":23,"y":-35},{"x":24,"y":-33},{"x":25,"y":-31},{"x":26,"y":-36},{"x":27,"y":-33},{"x":28,"y":-38},{"x":29,"y":-35},{"x":30,"y":-33},{"x":31,"y":-37},{"x":32,"y":-34},{"x":33,"y":-36},{"x":34,"y":-39},{"x":35,"y":-36},{"x":36,"y":-38},{"x":37,"y":-34},{"x":38,"y":-40},{"x":39,"y":-37},{"x":40,"y":-35},{"x":41,"y":-39},{"x":42,"y":-41},{"x":43,"y":-37},{"x":44,"y":-35},{"x":45,"y":-39},{"x":46,"y":-37},{"x":47,"y":-40},{"x":48,"y":-36},{"x":49,"y":-39},{"x":12,"y":-34},{"x":14,"y":-31},{"x":16,"y":-35},{"x":18,"y":-32}],
"m11":[{"x":3.75,"y":-32.4,"lo":-34.4,"hi":-30.4},{"x":10.84,"y":-22,"lo":-29.6,"hi":-13.9},{"x":17.95,"y":-17.7,"lo":-19.2,"hi":-16.2},{"x":25.1,"y":-18.5,"lo":-23.3,"hi":-13.5},{"x":32.3,"y":-21.6,"lo":-25.4,"hi":-18.1},{"x":39.4,"y":-20,"lo":-25.2,"hi":-14.6},{"x":46.6,"y":-21,"lo":-27,"hi":-15.5},{"x":53.75,"y":-19,"lo":-25,"hi":-13.2},{"x":60.95,"y":-19.4,"lo":-26.1,"hi":-13.2},{"x":68.1,"y":-17,"lo":-20.9,"hi":-13.2},{"x":75.2,"y":-16.7,"lo":-21,"hi":-12.2},{"x":82.4,"y":-15.4,"lo":-19.6,"hi":-11.3}],
"m12":[{"x":3.75,"y":-30.9,"lo":-33.7,"hi":-27.8},{"x":10.84,"y":-19.3,"lo":-29.6,"hi":-9.6},{"x":17.95,"y":-15.4,"lo":-17.8,"hi":-12.6},{"x":25.1,"y":-16.1,"lo":-20.4,"hi":-11.5},{"x":32.3,"y":-17.8,"lo":-21.3,"hi":-14.3},{"x":39.4,"y":-16.5,"lo":-20.9,"hi":-11.8},{"x":46.6,"y":-18.4,"lo":-24.3,"hi":-12.3},{"x":53.75,"y":-15,"lo":-21,"hi":-8.9},{"x":60.95,"y":-15.8,"lo":-21.7,"hi":-9.7},{"x":68.1,"y":-15.2,"lo":-19.3,"hi":-10.9},{"x":75.2,"y":-15.5,"lo":-20,"hi":-10.9},{"x":82.4,"y":-14.6,"lo":-20.2,"hi":-8.9}],
"m13":[{"x":3.75,"y":-27.7,"lo":-31.7,"hi":-23.3},{"x":10.84,"y":-15.9,"lo":-24.5,"hi":-7},{"x":17.95,"y":-12.9,"lo":-15.8,"hi":-9.4},{"x":25.1,"y":-15,"lo":-19.4,"hi":-10.7},{"x":32.3,"y":-16.1,"lo":-19.8,"hi":-12},{"x":39.4,"y":-14.5,"lo":-20.9,"hi":-8.5},{"x":46.6,"y":-14.6,"lo":-19.8,"hi":-9.1},{"x":53.75,"y":-13.7,"lo":-20,"hi":-7.6},{"x":60.95,"y":-15.9,"lo":-21.6,"hi":-10.3},{"x":68.1,"y":-14.8,"lo":-18.7,"hi":-11.5},{"x":75.2,"y":-15.5,"lo":-21,"hi":-10.3},{"x":82.4,"y":-14.2,"lo":-20.4,"hi":-8.1}],
"m21":[{"x":5.39,"y":-43.1,"lo":-44.1,"hi":-42.1},{"x":8.96,"y":-43.1,"lo":-44.3,"hi":-41.9},{"x":12.5,"y":-42.1,"lo":-49,"hi":-35.6},{"x":16,"y":-40.6,"lo":-50.3,"hi":-30.6},{"x":19.7,"y":-38.1,"lo":-48.1,"hi":-28.1},{"x":23.2,"y":-32.9,"lo":-41.5,"hi":-24.1},{"x":26.8,"y":-35.6,"lo":-47.1,"hi":-24},{"x":30.4,"y":-35.6,"lo":-47.5,"hi":-23.1},{"x":33.9,"y":-31.9,"lo":-43.1,"hi":-20.9},{"x":37.5,"y":-34,"lo":-46.9,"hi":-21.3},{"x":41.1,"y":-33.4,"lo":-46,"hi":-20.9}],
"m22":[{"x":5.39,"y":-42.8,"lo":-44,"hi":-41.6},{"x":8.96,"y":-42.8,"lo":-45.6,"hi":-39.4},{"x":12.5,"y":-42.1,"lo":-49,"hi":-35.4},{"x":16,"y":-40,"lo":-50.3,"hi":-29.4},{"x":19.7,"y":-36.6,"lo":-47.3,"hi":-26.3},{"x":23.2,"y":-31.6,"lo":-40.9,"hi":-22.8},{"x":26.8,"y":-35.4,"lo":-47.1,"hi":-23.8},{"x":30.4,"y":-36.6,"lo":-48.5,"hi":-24.8},{"x":33.9,"y":-33.5,"lo":-45.6,"hi":-21.3},{"x":37.5,"y":-35.6,"lo":-49,"hi":-22.5},{"x":41.1,"y":-34.4,"lo":-46.9,"hi":-21.9}],
"m23":[{"x":5.39,"y":-41.5,"lo":-42.5,"hi":-40.5},{"x":8.96,"y":-42.1,"lo":-46,"hi":-38.1},{"x":12.5,"y":-40,"lo":-46.3,"hi":-34},{"x":16,"y":-37.9,"lo":-49.8,"hi":-25.6},{"x":19.7,"y":-33.5,"lo":-44.4,"hi":-22.5},{"x":23.2,"y":-29.8,"lo":-39.4,"hi":-20.6},{"x":26.8,"y":-33.8,"lo":-46.3,"hi":-21.5},{"x":30.4,"y":-35.3,"lo":-47.1,"hi":-23.1},{"x":33.9,"y":-32.1,"lo":-44.4,"hi":-19.4},{"x":37.5,"y":-32.9,"lo":-46,"hi":-20.3},{"x":41.1,"y":-34.6,"lo":-46.9,"hi":-22.3}],
"m31":[{"x":1.19,"y":-43,"lo":-46.9,"hi":-38.7},{"x":3.24,"y":-33.8,"lo":-40.9,"hi":-26.7},{"x":5.4,"y":-28.4,"lo":-32.8,"hi":-23.9},{"x":7.55,"y":-26.7,"lo":-31.2,"hi":-22.1},{"x":9.69,"y":-27.3,"lo":-33.6,"hi":-21.1},{"x":11.83,"y":-26.8,"lo":-32.3,"hi":-21.4},{"x":14,"y":-21.6,"lo":-28.1,"hi":-15.4},{"x":16.1,"y":-23.6,"lo":-31,"hi":-16.4},{"x":18.26,"y":-20.8,"lo":-26.5,"hi":-15.2},{"x":20.4,"y":-25.6,"lo":-31.4,"hi":-19.9},{"x":22.6,"y":-22,"lo":-27.7,"hi":-16.3},{"x":24.76,"y":-20.7,"lo":-26.7,"hi":-14.9}],
"m32":[{"x":1.19,"y":-44.2,"lo":-46.2,"hi":-42.2},{"x":3.24,"y":-28.1,"lo":-35.9,"hi":-20.2},{"x":5.4,"y":-28.7,"lo":-34.1,"hi":-23.2},{"x":7.55,"y":-28.1,"lo":-34.8,"hi":-21.3},{"x":9.69,"y":-30.2,"lo":-37.1,"hi":-23.2},{"x":11.83,"y":-27.3,"lo":-33.8,"hi":-20.7},{"x":14,"y":-24.4,"lo":-29.3,"hi":-19.3},{"x":16.1,"y":-30.1,"lo":-37.1,"hi":-23},{"x":18.26,"y":-24.4,"lo":-30.5,"hi":-18.4},{"x":20.4,"y":-27,"lo":-33.8,"hi":-19.9},{"x":22.6,"y":-23.2,"lo":-29.4,"hi":-17.1},{"x":24.76,"y":-22.3,"lo":-26.1,"hi":-17.6}],
"m33":[{"x":1.19,"y":-40.2,"lo":-46,"hi":-34.1},{"x":3.24,"y":-33.2,"lo":-40.9,"hi":-25.6},{"x":5.4,"y":-33.8,"lo":-37.1,"hi":-30.5},{"x":7.55,"y":-31.4,"lo":-35,"hi":-27.7},{"x":9.69,"y":-29.6,"lo":-36.9,"hi":-22.5},{"x":11.83,"y":-28.4,"lo":-33.9,"hi":-22.8},{"x":14,"y":-26.1,"lo":-31.2,"hi":-21.1},{"x":16.1,"y":-28.4,"lo":-34.6,"hi":-21.8},{"x":18.26,"y":-28,"lo":-33.4,"hi":-22.5},{"x":20.4,"y":-25.7,"lo":-33.3,"hi":-18},{"x":22.6,"y":-24.9,"lo":-31.8,"hi":-18.1},{"x":24.76,"y":-24.3,"lo":-31.2,"hi":-17.5}],
"m41":[{"x":2.25,"y":-53,"lo":-55.4,"hi":-50.8},{"x":6.75,"y":-43.6,"lo":-49.7,"hi":-36.9},{"x":11.1,"y":-36.6,"lo":-38.3,"hi":-34.3},{"x":15.6,"y":-34.4,"lo":-38.6,"hi":-30.5},{"x":20.1,"y":-33,"lo":-40.6,"hi":-25.4},{"x":24.6,"y":-33.6,"lo":-42.4,"hi":-24.7},{"x":29,"y":-32.4,"lo":-43,"hi":-22.1},{"x":33.4,"y":-35.2,"lo":-45.8,"hi":-24.4},{"x":37.85,"y":-35.6,"lo":-47.7,"hi":-23.6},{"x":42.35,"y":-34.1,"lo":-45.8,"hi":-22.4},{"x":46.85,"y":-33.6,"lo":-43.2,"hi":-23.8},{"x":51.25,"y":-33.3,"lo":-43,"hi":-23.8}],
"m42":[{"x":2.25,"y":-50.8,"lo":-52.3,"hi":-49.3},{"x":6.75,"y":-43,"lo":-50.2,"hi":-36.1},{"x":11.1,"y":-35.2,"lo":-38.8,"hi":-31.9},{"x":15.6,"y":-30.8,"lo":-35.8,"hi":-26},{"x":20.1,"y":-30.8,"lo":-39.4,"hi":-22.1},{"x":24.6,"y":-30.8,"lo":-41,"hi":-20.6},{"x":29,"y":-31.9,"lo":-43.9,"hi":-19.7},{"x":33.4,"y":-34.3,"lo":-45.8,"hi":-22.8},{"x":37.85,"y":-34.9,"lo":-48,"hi":-21.9},{"x":42.35,"y":-35.4,"lo":-47.8,"hi":-22.7},{"x":46.85,"y":-33.3,"lo":-43.9,"hi":-23},{"x":51.25,"y":-32.2,"lo":-42.7,"hi":-21.9}],
"m43":[{"x":2.25,"y":-47.2,"lo":-48.2,"hi":-46.2},{"x":6.75,"y":-45,"lo":-50.8,"hi":-39.1},{"x":11.1,"y":-33,"lo":-37.7,"hi":-28.3},{"x":15.6,"y":-32.4,"lo":-36.3,"hi":-28},{"x":20.1,"y":-30.6,"lo":-39.3,"hi":-21.7},{"x":24.6,"y":-31.9,"lo":-41.7,"hi":-21.9},{"x":29,"y":-29.7,"lo":-41.3,"hi":-18.3},{"x":33.4,"y":-31.1,"lo":-43,"hi":-19.4},{"x":37.85,"y":-32.2,"lo":-45,"hi":-19.4},{"x":42.35,"y":-33.6,"lo":-45.4,"hi":-21.7},{"x":46.85,"y":-32.7,"lo":-43,"hi":-22.4},{"x":51.25,"y":-30.8,"lo":-42.1,"hi":-19.7}],
"m51":[{"x":2.09,"y":-45.1,"lo":-46.1,"hi":-44.1},{"x":6.26,"y":-43.8,"lo":-46.8,"hi":-41.7},{"x":10.4,"y":-41.3,"lo":-43.6,"hi":-38.8},{"x":14.5,"y":-40.9,"lo":-43.9,"hi":-37.9},{"x":18.6,"y":-38.8,"lo":-41.5,"hi":-35.4},{"x":22.7,"y":-38.2,"lo":-41.5,"hi":-34.8},{"x":26.8,"y":-39,"lo":-43,"hi":-35.2},{"x":30.9,"y":-39,"lo":-43.2,"hi":-34.6},{"x":34.95,"y":-39.4,"lo":-44.5,"hi":-34.2},{"x":39,"y":-37.3,"lo":-44.2,"hi":-30.6},{"x":43.1,"y":-39.6,"lo":-45.7,"hi":-35.2},{"x":47.3,"y":-38.6,"lo":-43.6,"hi":-33.7}],
"m52":[{"x":2.09,"y":-43.8,"lo":-44.8,"hi":-42.8},{"x":6.26,"y":-43,"lo":-45.7,"hi":-41.5},{"x":10.4,"y":-41.9,"lo":-44.9,"hi":-39.4},{"x":14.5,"y":-39.8,"lo":-42.8,"hi":-37.3},{"x":18.6,"y":-38.2,"lo":-40.9,"hi":-35.2},{"x":22.7,"y":-38.8,"lo":-42.6,"hi":-34.8},{"x":26.8,"y":-39,"lo":-43.2,"hi":-34.2},{"x":30.9,"y":-39,"lo":-43.6,"hi":-34.8},{"x":34.95,"y":-38.6,"lo":-44.2,"hi":-33.1},{"x":39,"y":-39,"lo":-44.5,"hi":-33.7},{"x":43.1,"y":-38.8,"lo":-43.6,"hi":-33.5},{"x":47.3,"y":-39.6,"lo":-45.5,"hi":-33.7}],
"m53":[{"x":2.09,"y":-43.2,"lo":-44.2,"hi":-42.2},{"x":6.26,"y":-39.8,"lo":-44.7,"hi":-36.3},{"x":10.4,"y":-35.4,"lo":-39.4,"hi":-31.4},{"x":14.5,"y":-35.6,"lo":-39.8,"hi":-31},{"x":18.6,"y":-33.9,"lo":-37.7,"hi":-29.3},{"x":22.7,"y":-33.7,"lo":-38.6,"hi":-27.9},{"x":26.8,"y":-35.6,"lo":-41.5,"hi":-30.6},{"x":30.9,"y":-35.8,"lo":-40.9,"hi":-30.6},{"x":34.95,"y":-37.7,"lo":-43.6,"hi":-32.1},{"x":39,"y":-36.5,"lo":-42.1,"hi":-30.6},{"x":43.1,"y":-38.6,"lo":-43.6,"hi":-33.1},{"x":47.3,"y":-37.9,"lo":-44.7,"hi":-31.4}],
"l11":[{"x":2.87,"y":-34.8},{"x":3.75,"y":-32.4},{"x":5.9,"y":-28.3},{"x":8.3,"y":-24.8},{"x":10.84,"y":-22},{"x":13.07,"y":-19.8},{"x":15.06,"y":-18.7},{"x":17.93,"y":-17.7},{"x":21,"y":-17.8},{"x":25,"y":-18.5},{"x":28.2,"y":-20},{"x":32.2,"y":-21},{"x":35.3,"y":-20.9},{"x":38.6,"y":-20.7}],
"l12":[{"x":2.87,"y":-32.6},{"x":3.75,"y":-30.9},{"x":5.5,"y":-27},{"x":7.9,"y":-23},{"x":10.84,"y":-19.3},{"x":12.7,"y":-17.4},{"x":14.4,"y":-16.1},{"x":18,"y":-15.4},{"x":21.4,"y":-15.7},{"x":25.3,"y":-16.1},{"x":28.6,"y":-17},{"x":32.4,"y":-17.8},{"x":35.8,"y":-17.6},{"x":38.6,"y":-17.4}],
"l13":[{"x":2.87,"y":-31.3},{"x":3.75,"y":-27.7},{"x":6.7,"y":-21.7},{"x":10.84,"y":-15.9},{"x":14.3,"y":-13.5},{"x":17.93,"y":-12.9},{"x":21.8,"y":-14.1},{"x":25,"y":-15},{"x":29,"y":-15.8},{"x":32.2,"y":-16.1},{"x":36.2,"y":-15.9},{"x":38.6,"y":-15.7}],
"l21":[{"x":2.77,"y":-45.3},{"x":5.39,"y":-43.1},{"x":8.96,"y":-43.1},{"x":12.5,"y":-42.1},{"x":16,"y":-40.6},{"x":19.7,"y":-38.1},{"x":22.9,"y":-36}],
"l22":[{"x":2.77,"y":-43.1},{"x":5.39,"y":-42.8},{"x":7.1,"y":-43.8},{"x":8.96,"y":-42.8},{"x":12.5,"y":-42.1},{"x":16,"y":-40},{"x":19.7,"y":-36.6},{"x":22.9,"y":-35}],
"l23":[{"x":2.77,"y":-42.3},{"x":5.39,"y":-41.5},{"x":7.3,"y":-42.8},{"x":8.96,"y":-42.1},{"x":12.5,"y":-40},{"x":16,"y":-37.9},{"x":19.7,"y":-33.5},{"x":22.9,"y":-32.8}],
"l31":[{"x":1,"y":-44.2},{"x":1.19,"y":-43},{"x":3.24,"y":-33.8},{"x":3.49,"y":-32.7}],
"l32":[{"x":1,"y":-45.3},{"x":1.19,"y":-44.2},{"x":3.24,"y":-28.1}],
"l33":[{"x":1,"y":-41.4},{"x":1.19,"y":-40.2},{"x":3.24,"y":-33.2}],
"l41":[{"x":1.35,"y":-54.7},{"x":2.25,"y":-53},{"x":6.75,"y":-43.6},{"x":7.05,"y":-43}],
"l42":[{"x":1.35,"y":-51.7},{"x":2.25,"y":-50.8},{"x":6.75,"y":-43}],
"l43":[{"x":1.35,"y":-47.7},{"x":2.25,"y":-47.2},{"x":6.75,"y":-45}],
"l51":[{"x":1.4,"y":-45.5},{"x":2.09,"y":-45.1},{"x":6.26,"y":-43.8},{"x":10.4,"y":-41.5},{"x":14.5,"y":-40.9},{"x":18.6,"y":-39},{"x":22.7,"y":-38.5},{"x":25.3,"y":-38.3}],
"l52":[{"x":1.4,"y":-43.8},{"x":2.09,"y":-43.8},{"x":6.26,"y":-43},{"x":10.4,"y":-41.9},{"x":14.5,"y":-39.8},{"x":18.6,"y":-38.2},{"x":22.7,"y":-38.8},{"x":25.3,"y":-38.6}],
"l53":[{"x":1.4,"y":-44.2},{"x":2.09,"y":-43.2},{"x":6.26,"y":-39.8},{"x":10.4,"y":-35.8},{"x":14.5,"y":-35.2},{"x":18.6,"y":-34},{"x":22.7,"y":-33.7},{"x":25.3,"y":-34.5}]
},
"concat":[
{"width":347,"height":240,"resolve":{"axis":{"x":"independent","y":"independent"}},"layer":[
{"data":{"name":"s11"},"mark":{"type":"point","shape":"M-1,-1L1,1M-1,1L1,-1","size":64,"filled":false,"color":"#000","strokeWidth":1,"opacity":1,"clip":true},"encoding":{"x":{"field":"x","type":"quantitative","scale":{"domain":[2.87,86],"nice":false,"zero":false},"axis":{"tickCount":4,"title":null}},"y":{"field":"y","type":"quantitative","scale":{"domain":[-50,12.6],"nice":false,"zero":false},"axis":{"tickCount":6,"title":"VLSR (Hα) [km s⁻¹]"}}}},
{"data":{"values":[{"x":14.4}]},"mark":{"type":"rule","color":"#00e000","strokeWidth":1.6},"encoding":{"x":{"field":"x","type":"quantitative","axis":null}}},
{"data":{"values":[{"x":38.6}]},"mark":{"type":"rule","color":"#ff1a1a","strokeWidth":1.6},"encoding":{"x":{"field":"x","type":"quantitative","axis":null}}},
{"data":{"name":"l11"},"mark":{"type":"line","color":"#ff00ff","strokeWidth":1.5,"clip":true},"encoding":{"x":{"field":"x","type":"quantitative","axis":{"orient":"top","tickCount":4,"labels":false,"title":null}},"y":{"field":"y","type":"quantitative","axis":{"orient":"right","tickCount":6,"labels":false,"title":null}}}},
{"data":{"name":"m11"},"mark":{"type":"errorbar","color":"#ff00ff","ticks":true,"size":5,"thickness":1},"encoding":{"x":{"field":"x","type":"quantitative","axis":null},"y":{"field":"lo","type":"quantitative","axis":null},"y2":{"field":"hi"}}},
{"data":{"name":"m11"},"mark":{"type":"point","shape":"circle","filled":true,"size":200,"color":"#ff00ff","opacity":1},"encoding":{"x":{"field":"x","type":"quantitative","axis":{"orient":"bottom","tickCount":40,"labels":false,"tickSize":-5,"title":null}},"y":{"field":"y","type":"quantitative","axis":{"orient":"left","tickCount":32,"labels":false,"tickSize":-5,"title":null}}}},
{"data":{"values":[{"x":77.8,"y":6.3,"lo":5.3,"hi":7.3}]},"mark":{"type":"errorbar","color":"#3333ff","ticks":true,"size":4,"thickness":1},"encoding":{"x":{"field":"x","type":"quantitative","axis":null},"y":{"field":"lo","type":"quantitative","axis":null},"y2":{"field":"hi"}}},
{"data":{"values":[{"x":77.8,"y":6.3}]},"mark":{"type":"point","shape":"circle","filled":false,"size":140,"color":"#3333ff","strokeWidth":1.2,"opacity":1},"encoding":{"x":{"field":"x","type":"quantitative","axis":{"orient":"top","tickCount":40,"labels":false,"tickSize":-5,"title":null}},"y":{"field":"y","type":"quantitative","axis":{"orient":"right","tickCount":32,"labels":false,"tickSize":-5,"title":null}}}},
{"data":{"values":[{"x":7.42,"y":5.3,"t":"HII−01"}]},"mark":{"type":"text","font":"Liberation Serif","fontSize":24,"align":"left","baseline":"middle","color":"#111"},"encoding":{"x":{"field":"x","type":"quantitative","axis":null},"y":{"field":"y","type":"quantitative","axis":null},"text":{"field":"t"}}}
]},
{"width":347,"height":240,"resolve":{"axis":{"x":"independent","y":"independent"}},"layer":[
{"data":{"name":"s12"},"mark":{"type":"point","shape":"M-1,-1L1,1M-1,1L1,-1","size":64,"filled":false,"color":"#000","strokeWidth":1,"opacity":1,"clip":true},"encoding":{"x":{"field":"x","type":"quantitative","scale":{"domain":[2.87,86],"nice":false,"zero":false},"axis":{"tickCount":4,"title":null}},"y":{"field":"y","type":"quantitative","scale":{"domain":[-50,12.6],"nice":false,"zero":false},"axis":{"tickCount":6,"title":"VLSR (N2) [km s⁻¹]"}}}},
{"data":{"values":[{"x":14.4}]},"mark":{"type":"rule","color":"#00e000","strokeWidth":1.6},"encoding":{"x":{"field":"x","type":"quantitative","axis":null}}},
{"data":{"name":"l12"},"mark":{"type":"line","color":"#ff00ff","strokeWidth":1.5,"clip":true},"encoding":{"x":{"field":"x","type":"quantitative","axis":{"orient":"top","tickCount":4,"labels":false,"title":null}},"y":{"field":"y","type":"quantitative","axis":{"orient":"right","tickCount":6,"labels":false,"title":null}}}},
{"data":{"name":"m12"},"mark":{"type":"errorbar","color":"#ff00ff","ticks":true,"size":5,"thickness":1},"encoding":{"x":{"field":"x","type":"quantitative","axis":null},"y":{"field":"lo","type":"quantitative","axis":null},"y2":{"field":"hi"}}},
{"data":{"name":"m12"},"mark":{"type":"point","shape":"circle","filled":true,"size":200,"color":"#ff00ff","opacity":1},"encoding":{"x":{"field":"x","type":"quantitative","axis":{"orient":"bottom","tickCount":40,"labels":false,"tickSize":-5,"title":null}},"y":{"field":"y","type":"quantitative","axis":{"orient":"left","tickCount":32,"labels":false,"tickSize":-5,"title":null}}}},
{"data":{"values":[{"x":77.8,"y":6.3,"lo":4.6,"hi":8.0}]},"mark":{"type":"errorbar","color":"#3333ff","ticks":true,"size":4,"thickness":1},"encoding":{"x":{"field":"x","type":"quantitative","axis":null},"y":{"field":"lo","type":"quantitative","axis":null},"y2":{"field":"hi"}}},
{"data":{"values":[{"x":77.8,"y":6.3}]},"mark":{"type":"point","shape":"circle","filled":false,"size":140,"color":"#3333ff","strokeWidth":1.2,"opacity":1},"encoding":{"x":{"field":"x","type":"quantitative","axis":{"orient":"top","tickCount":40,"labels":false,"tickSize":-5,"title":null}},"y":{"field":"y","type":"quantitative","axis":{"orient":"right","tickCount":32,"labels":false,"tickSize":-5,"title":null}}}},
{"data":{"values":[{"x":7.42,"y":5.3,"t":"HII−01"}]},"mark":{"type":"text","font":"Liberation Serif","fontSize":24,"align":"left","baseline":"middle","color":"#111"},"encoding":{"x":{"field":"x","type":"quantitative","axis":null},"y":{"field":"y","type":"quantitative","axis":null},"text":{"field":"t"}}}
]},
{"width":347,"height":240,"resolve":{"axis":{"x":"independent","y":"independent"}},"layer":[
{"data":{"name":"s13"},"mark":{"type":"point","shape":"M-1,-1L1,1M-1,1L1,-1","size":64,"filled":false,"color":"#000","strokeWidth":1,"opacity":1,"clip":true},"encoding":{"x":{"field":"x","type":"quantitative","scale":{"domain":[2.87,86],"nice":false,"zero":false},"axis":{"tickCount":4,"title":null}},"y":{"field":"y","type":"quantitative","scale":{"domain":[-50,12.6],"nice":false,"zero":false},"axis":{"tickCount":6,"title":"VLSR (S2) [km s⁻¹]"}}}},
{"data":{"values":[{"x":14.4}]},"mark":{"type":"rule","color":"#00e000","strokeWidth":1.6},"encoding":{"x":{"field":"x","type":"quantitative","axis":null}}},
{"data":{"name":"l13"},"mark":{"type":"line","color":"#ff00ff","strokeWidth":1.5,"clip":true},"encoding":{"x":{"field":"x","type":"quantitative","axis":{"orient":"top","tickCount":4,"labels":false,"title":null}},"y":{"field":"y","type":"quantitative","axis":{"orient":"right","tickCount":6,"labels":false,"title":null}}}},
{"data":{"name":"m13"},"mark":{"type":"errorbar","color":"#ff00ff","ticks":true,"size":5,"thickness":1},"encoding":{"x":{"field":"x","type":"quantitative","axis":null},"y":{"field":"lo","type":"quantitative","axis":null},"y2":{"field":"hi"}}},
{"data":{"name":"m13"},"mark":{"type":"point","shape":"circle","filled":true,"size":200,"color":"#ff00ff","opacity":1},"encoding":{"x":{"field":"x","type":"quantitative","axis":{"orient":"bottom","tickCount":40,"labels":false,"tickSize":-5,"title":null}},"y":{"field":"y","type":"quantitative","axis":{"orient":"left","tickCount":32,"labels":false,"tickSize":-5,"title":null}}}},
{"data":{"values":[{"x":77.8,"y":6.3,"lo":4.6,"hi":8.0}]},"mark":{"type":"errorbar","color":"#3333ff","ticks":true,"size":4,"thickness":1},"encoding":{"x":{"field":"x","type":"quantitative","axis":null},"y":{"field":"lo","type":"quantitative","axis":null},"y2":{"field":"hi"}}},
{"data":{"values":[{"x":77.8,"y":6.3}]},"mark":{"type":"point","shape":"circle","filled":false,"size":140,"color":"#3333ff","strokeWidth":1.2,"opacity":1},"encoding":{"x":{"field":"x","type":"quantitative","axis":{"orient":"top","tickCount":40,"labels":false,"tickSize":-5,"title":null}},"y":{"field":"y","type":"quantitative","axis":{"orient":"right","tickCount":32,"labels":false,"tickSize":-5,"title":null}}}},
{"data":{"values":[{"x":7.42,"y":5.3,"t":"HII−01"}]},"mark":{"type":"text","font":"Liberation Serif","fontSize":24,"align":"left","baseline":"middle","color":"#111"},"encoding":{"x":{"field":"x","type":"quantitative","axis":null},"y":{"field":"y","type":"quantitative","axis":null},"text":{"field":"t"}}}
]},
{"width":347,"height":240,"resolve":{"axis":{"x":"independent","y":"independent"}},"layer":[
{"data":{"name":"s21"},"mark":{"type":"point","shape":"M-1,-1L1,1M-1,1L1,-1","size":64,"filled":false,"color":"#000","strokeWidth":1,"opacity":1,"clip":true},"encoding":{"x":{"field":"x","type":"quantitative","scale":{"domain":[2.77,42.7],"nice":false,"zero":false},"axis":{"tickCount":4,"title":null}},"y":{"field":"y","type":"quantitative","scale":{"domain":[-80,10],"nice":false,"zero":false},"axis":{"tickCount":5,"title":"VLSR (Hα) [km s⁻¹]"}}}},
{"data":{"values":[{"x":7.13}]},"mark":{"type":"rule","color":"#00e000","strokeWidth":1.6},"encoding":{"x":{"field":"x","type":"quantitative","axis":null}}},
{"data":{"values":[{"x":22.9}]},"mark":{"type":"rule","color":"#ff1a1a","strokeWidth":1.6},"encoding":{"x":{"field":"x","type":"quantitative","axis":null}}},
{"data":{"name":"l21"},"mark":{"type":"line","color":"#ff00ff","strokeWidth":1.5,"clip":true},"encoding":{"x":{"field":"x","type":"quantitative","axis":{"orient":"top","tickCount":4,"labels":false,"title":null}},"y":{"field":"y","type":"quantitative","axis":{"orient":"right","tickCount":5,"labels":false,"title":null}}}},
{"data":{"name":"m21"},"mark":{"type":"errorbar","color":"#ff00ff","ticks":true,"size":5,"thickness":1},"encoding":{"x":{"field":"x","type":"quantitative","axis":null},"y":{"field":"lo","type":"quantitative","axis":null},"y2":{"field":"hi"}}},
{"data":{"name":"m21"},"mark":{"type":"point","shape":"circle","filled":true,"size":200,"color":"#ff00ff","opacity":1},"encoding":{"x":{"field":"x","type":"quantitative","axis":{"orient":"bottom","tickCount":40,"labels":false,"tickSize":-5,"title":null}},"y":{"field":"y","type":"quantitative","axis":{"orient":"left","tickCount":18,"labels":false,"tickSize":-5,"title":null}}}},
{"data":{"values":[{"x":38.75,"y":1.0,"lo":0.6,"hi":1.4}]},"mark":{"type":"errorbar","color":"#3333ff","ticks":true,"size":4,"thickness":1},"encoding":{"x":{"field":"x","type":"quantitative","axis":null},"y":{"field":"lo","type":"quantitative","axis":null},"y2":{"field":"hi"}}},
{"data":{"values":[{"x":38.75,"y":1.0}]},"mark":{"type":"point","shape":"circle","filled":false,"size":140,"color":"#3333ff","strokeWidth":1.2,"opacity":1},"encoding":{"x":{"field":"x","type":"quantitative","axis":{"orient":"top","tickCount":40,"labels":false,"tickSize":-5,"title":null}},"y":{"field":"y","type":"quantitative","axis":{"orient":"right","tickCount":18,"labels":false,"tickSize":-5,"title":null}}}},
{"data":{"values":[{"x":4.96,"y":-0.5,"t":"HII−02"}]},"mark":{"type":"text","font":"Liberation Serif","fontSize":24,"align":"left","baseline":"middle","color":"#111"},"encoding":{"x":{"field":"x","type":"quantitative","axis":null},"y":{"field":"y","type":"quantitative","axis":null},"text":{"field":"t"}}}
]},
{"width":347,"height":240,"resolve":{"axis":{"x":"independent","y":"independent"}},"layer":[
{"data":{"name":"s22"},"mark":{"type":"point","shape":"M-1,-1L1,1M-1,1L1,-1","size":64,"filled":false,"color":"#000","strokeWidth":1,"opacity":1,"clip":true},"encoding":{"x":{"field":"x","type":"quantitative","scale":{"domain":[2.77,42.7],"nice":false,"zero":false},"axis":{"tickCount":4,"title":null}},"y":{"field":"y","type":"quantitative","scale":{"domain":[-80,10],"nice":false,"zero":false},"axis":{"tickCount":5,"title":"VLSR (N2) [km s⁻¹]"}}}},
{"data":{"values":[{"x":7.13}]},"mark":{"type":"rule","color":"#00e000","strokeWidth":1.6},"encoding":{"x":{"field":"x","type":"quantitative","axis":null}}},
{"data":{"name":"l22"},"mark":{"type":"line","color":"#ff00ff","strokeWidth":1.5,"clip":true},"encoding":{"x":{"field":"x","type":"quantitative","axis":{"orient":"top","tickCount":4,"labels":false,"title":null}},"y":{"field":"y","type":"quantitative","axis":{"orient":"right","tickCount":5,"labels":false,"title":null}}}},
{"data":{"name":"m22"},"mark":{"type":"errorbar","color":"#ff00ff","ticks":true,"size":5,"thickness":1},"encoding":{"x":{"field":"x","type":"quantitative","axis":null},"y":{"field":"lo","type":"quantitative","axis":null},"y2":{"field":"hi"}}},
{"data":{"name":"m22"},"mark":{"type":"point","shape":"circle","filled":true,"size":200,"color":"#ff00ff","opacity":1},"encoding":{"x":{"field":"x","type":"quantitative","axis":{"orient":"bottom","tickCount":40,"labels":false,"tickSize":-5,"title":null}},"y":{"field":"y","type":"quantitative","axis":{"orient":"left","tickCount":18,"labels":false,"tickSize":-5,"title":null}}}},
{"data":{"values":[{"x":38.75,"y":1.0,"lo":-0.5,"hi":2.5}]},"mark":{"type":"errorbar","color":"#3333ff","ticks":true,"size":4,"thickness":1},"encoding":{"x":{"field":"x","type":"quantitative","axis":null},"y":{"field":"lo","type":"quantitative","axis":null},"y2":{"field":"hi"}}},
{"data":{"values":[{"x":38.75,"y":1.0}]},"mark":{"type":"point","shape":"circle","filled":false,"size":140,"color":"#3333ff","strokeWidth":1.2,"opacity":1},"encoding":{"x":{"field":"x","type":"quantitative","axis":{"orient":"top","tickCount":40,"labels":false,"tickSize":-5,"title":null}},"y":{"field":"y","type":"quantitative","axis":{"orient":"right","tickCount":18,"labels":false,"tickSize":-5,"title":null}}}},
{"data":{"values":[{"x":4.96,"y":-0.5,"t":"HII−02"}]},"mark":{"type":"text","font":"Liberation Serif","fontSize":24,"align":"left","baseline":"middle","color":"#111"},"encoding":{"x":{"field":"x","type":"quantitative","axis":null},"y":{"field":"y","type":"quantitative","axis":null},"text":{"field":"t"}}}
]},
{"width":347,"height":240,"resolve":{"axis":{"x":"independent","y":"independent"}},"layer":[
{"data":{"name":"s23"},"mark":{"type":"point","shape":"M-1,-1L1,1M-1,1L1,-1","size":64,"filled":false,"color":"#000","strokeWidth":1,"opacity":1,"clip":true},"encoding":{"x":{"field":"x","type":"quantitative","scale":{"domain":[2.77,42.7],"nice":false,"zero":false},"axis":{"tickCount":4,"title":null}},"y":{"field":"y","type":"quantitative","scale":{"domain":[-80,10],"nice":false,"zero":false},"axis":{"tickCount":5,"title":"VLSR (S2) [km s⁻¹]"}}}},
{"data":{"values":[{"x":7.13}]},"mark":{"type":"rule","color":"#00e000","strokeWidth":1.6},"encoding":{"x":{"field":"x","type":"quantitative","axis":null}}},
{"data":{"name":"l23"},"mark":{"type":"line","color":"#ff00ff","strokeWidth":1.5,"clip":true},"encoding":{"x":{"field":"x","type":"quantitative","axis":{"orient":"top","tickCount":4,"labels":false,"title":null}},"y":{"field":"y","type":"quantitative","axis":{"orient":"right","tickCount":5,"labels":false,"title":null}}}},
{"data":{"name":"m23"},"mark":{"type":"errorbar","color":"#ff00ff","ticks":true,"size":5,"thickness":1},"encoding":{"x":{"field":"x","type":"quantitative","axis":null},"y":{"field":"lo","type":"quantitative","axis":null},"y2":{"field":"hi"}}},
{"data":{"name":"m23"},"mark":{"type":"point","shape":"circle","filled":true,"size":200,"color":"#ff00ff","opacity":1},"encoding":{"x":{"field":"x","type":"quantitative","axis":{"orient":"bottom","tickCount":40,"labels":false,"tickSize":-5,"title":null}},"y":{"field":"y","type":"quantitative","axis":{"orient":"left","tickCount":18,"labels":false,"tickSize":-5,"title":null}}}},
{"data":{"values":[{"x":38.75,"y":1.0,"lo":-0.5,"hi":2.5}]},"mark":{"type":"errorbar","color":"#3333ff","ticks":true,"size":4,"thickness":1},"encoding":{"x":{"field":"x","type":"quantitative","axis":null},"y":{"field":"lo","type":"quantitative","axis":null},"y2":{"field":"hi"}}},
{"data":{"values":[{"x":38.75,"y":1.0}]},"mark":{"type":"point","shape":"circle","filled":false,"size":140,"color":"#3333ff","strokeWidth":1.2,"opacity":1},"encoding":{"x":{"field":"x","type":"quantitative","axis":{"orient":"top","tickCount":40,"labels":false,"tickSize":-5,"title":null}},"y":{"field":"y","type":"quantitative","axis":{"orient":"right","tickCount":18,"labels":false,"tickSize":-5,"title":null}}}},
{"data":{"values":[{"x":4.96,"y":-0.5,"t":"HII−02"}]},"mark":{"type":"text","font":"Liberation Serif","fontSize":24,"align":"left","baseline":"middle","color":"#111"},"encoding":{"x":{"field":"x","type":"quantitative","axis":null},"y":{"field":"y","type":"quantitative","axis":null},"text":{"field":"t"}}}
]},
{"width":347,"height":240,"resolve":{"axis":{"x":"independent","y":"independent"}},"layer":[
{"data":{"name":"s31"},"mark":{"type":"point","shape":"M-1,-1L1,1M-1,1L1,-1","size":64,"filled":false,"color":"#000","strokeWidth":1,"opacity":1,"clip":true},"encoding":{"x":{"field":"x","type":"quantitative","scale":{"domain":[1,25.85],"nice":false,"zero":false},"axis":{"tickCount":5,"title":null}},"y":{"field":"y","type":"quantitative","scale":{"domain":[-50,0],"nice":false,"zero":false},"axis":{"tickCount":5,"title":"VLSR (Hα) [km s⁻¹]"}}}},
{"data":{"values":[{"x":4.31}]},"mark":{"type":"rule","color":"#00e000","strokeWidth":1.6},"encoding":{"x":{"field":"x","type":"quantitative","axis":null}}},
{"data":{"values":[{"x":3.49}]},"mark":{"type":"rule","color":"#ff1a1a","strokeWidth":1.6},"encoding":{"x":{"field":"x","type":"quantitative","axis":null}}},
{"data":{"name":"l31"},"mark":{"type":"line","color":"#ff00ff","strokeWidth":1.5,"clip":true},"encoding":{"x":{"field":"x","type":"quantitative","axis":{"orient":"top","tickCount":5,"labels":false,"title":null}},"y":{"field":"y","type":"quantitative","axis":{"orient":"right","tickCount":5,"labels":false,"title":null}}}},
{"data":{"name":"m31"},"mark":{"type":"errorbar","color":"#ff00ff","ticks":true,"size":5,"thickness":1},"encoding":{"x":{"field":"x","type":"quantitative","axis":null},"y":{"field":"lo","type":"quantitative","axis":null},"y2":{"field":"hi"}}},
{"data":{"name":"m31"},"mark":{"type":"point","shape":"circle","filled":true,"size":200,"color":"#ff00ff","opacity":1},"encoding":{"x":{"field":"x","type":"quantitative","axis":{"orient":"bottom","tickCount":50,"labels":false,"tickSize":-5,"title":null}},"y":{"field":"y","type":"quantitative","axis":{"orient":"left","tickCount":27,"labels":false,"tickSize":-5,"title":null}}}},
{"data":{"values":[{"x":23.4,"y":-5.0,"lo":-6.25,"hi":-3.75}]},"mark":{"type":"errorbar","color":"#3333ff","ticks":true,"size":4,"thickness":1},"encoding":{"x":{"field":"x","type":"quantitative","axis":null},"y":{"field":"lo","type":"quantitative","axis":null},"y2":{"field":"hi"}}},
{"data":{"values":[{"x":23.4,"y":-5.0}]},"mark":{"type":"point","shape":"circle","filled":false,"size":140,"color":"#3333ff","strokeWidth":1.2,"opacity":1},"encoding":{"x":{"field":"x","type":"quantitative","axis":{"orient":"top","tickCount":50,"labels":false,"tickSize":-5,"title":null}},"y":{"field":"y","type":"quantitative","axis":{"orient":"right","tickCount":27,"labels":false,"tickSize":-5,"title":null}}}},
{"data":{"values":[{"x":2.36,"y":-5.83,"t":"HII−03"}]},"mark":{"type":"text","font":"Liberation Serif","fontSize":24,"align":"left","baseline":"middle","color":"#111"},"encoding":{"x":{"field":"x","type":"quantitative","axis":null},"y":{"field":"y","type":"quantitative","axis":null},"text":{"field":"t"}}}
]},
{"width":347,"height":240,"resolve":{"axis":{"x":"independent","y":"independent"}},"layer":[
{"data":{"name":"s32"},"mark":{"type":"point","shape":"M-1,-1L1,1M-1,1L1,-1","size":64,"filled":false,"color":"#000","strokeWidth":1,"opacity":1,"clip":true},"encoding":{"x":{"field":"x","type":"quantitative","scale":{"domain":[1,25.85],"nice":false,"zero":false},"axis":{"tickCount":5,"title":null}},"y":{"field":"y","type":"quantitative","scale":{"domain":[-50,0],"nice":false,"zero":false},"axis":{"tickCount":5,"title":"VLSR (N2) [km s⁻¹]"}}}},
{"data":{"values":[{"x":4.31}]},"mark":{"type":"rule","color":"#00e000","strokeWidth":1.6},"encoding":{"x":{"field":"x","type":"quantitative","axis":null}}},
{"data":{"name":"l32"},"mark":{"type":"line","color":"#ff00ff","strokeWidth":1.5,"clip":true},"encoding":{"x":{"field":"x","type":"quantitative","axis":{"orient":"top","tickCount":5,"labels":false,"title":null}},"y":{"field":"y","type":"quantitative","axis":{"orient":"right","tickCount":5,"labels":false,"title":null}}}},
{"data":{"name":"m32"},"mark":{"type":"errorbar","color":"#ff00ff","ticks":true,"size":5,"thickness":1},"encoding":{"x":{"field":"x","type":"quantitative","axis":null},"y":{"field":"lo","type":"quantitative","axis":null},"y2":{"field":"hi"}}},
{"data":{"name":"m32"},"mark":{"type":"point","shape":"circle","filled":true,"size":200,"color":"#ff00ff","opacity":1},"encoding":{"x":{"field":"x","type":"quantitative","axis":{"orient":"bottom","tickCount":50,"labels":false,"tickSize":-5,"title":null}},"y":{"field":"y","type":"quantitative","axis":{"orient":"left","tickCount":27,"labels":false,"tickSize":-5,"title":null}}}},
{"data":{"values":[{"x":23.4,"y":-5.0,"lo":-7.8,"hi":-2.2}]},"mark":{"type":"errorbar","color":"#3333ff","ticks":true,"size":4,"thickness":1},"encoding":{"x":{"field":"x","type":"quantitative","axis":null},"y":{"field":"lo","type":"quantitative","axis":null},"y2":{"field":"hi"}}},
{"data":{"values":[{"x":23.4,"y":-5.0}]},"mark":{"type":"point","shape":"circle","filled":false,"size":140,"color":"#3333ff","strokeWidth":1.2,"opacity":1},"encoding":{"x":{"field":"x","type":"quantitative","axis":{"orient":"top","tickCount":50,"labels":false,"tickSize":-5,"title":null}},"y":{"field":"y","type":"quantitative","axis":{"orient":"right","tickCount":27,"labels":false,"tickSize":-5,"title":null}}}},
{"data":{"values":[{"x":2.36,"y":-5.83,"t":"HII−03"}]},"mark":{"type":"text","font":"Liberation Serif","fontSize":24,"align":"left","baseline":"middle","color":"#111"},"encoding":{"x":{"field":"x","type":"quantitative","axis":null},"y":{"field":"y","type":"quantitative","axis":null},"text":{"field":"t"}}}
]},
{"width":347,"height":240,"resolve":{"axis":{"x":"independent","y":"independent"}},"layer":[
{"data":{"name":"s33"},"mark":{"type":"point","shape":"M-1,-1L1,1M-1,1L1,-1","size":64,"filled":false,"color":"#000","strokeWidth":1,"opacity":1,"clip":true},"encoding":{"x":{"field":"x","type":"quantitative","scale":{"domain":[1,25.85],"nice":false,"zero":false},"axis":{"tickCount":5,"title":null}},"y":{"field":"y","type":"quantitative","scale":{"domain":[-50,0],"nice":false,"zero":false},"axis":{"tickCount":5,"title":"VLSR (S2) [km s⁻¹]"}}}},
{"data":{"values":[{"x":4.31}]},"mark":{"type":"rule","color":"#00e000","strokeWidth":1.6},"encoding":{"x":{"field":"x","type":"quantitative","axis":null}}},
{"data":{"name":"l33"},"mark":{"type":"line","color":"#ff00ff","strokeWidth":1.5,"clip":true},"encoding":{"x":{"field":"x","type":"quantitative","axis":{"orient":"top","tickCount":5,"labels":false,"title":null}},"y":{"field":"y","type":"quantitative","axis":{"orient":"right","tickCount":5,"labels":false,"title":null}}}},
{"data":{"name":"m33"},"mark":{"type":"errorbar","color":"#ff00ff","ticks":true,"size":5,"thickness":1},"encoding":{"x":{"field":"x","type":"quantitative","axis":null},"y":{"field":"lo","type":"quantitative","axis":null},"y2":{"field":"hi"}}},
{"data":{"name":"m33"},"mark":{"type":"point","shape":"circle","filled":true,"size":200,"color":"#ff00ff","opacity":1},"encoding":{"x":{"field":"x","type":"quantitative","axis":{"orient":"bottom","tickCount":50,"labels":false,"tickSize":-5,"title":null}},"y":{"field":"y","type":"quantitative","axis":{"orient":"left","tickCount":27,"labels":false,"tickSize":-5,"title":null}}}},
{"data":{"values":[{"x":23.4,"y":-5.0,"lo":-7.8,"hi":-2.2}]},"mark":{"type":"errorbar","color":"#3333ff","ticks":true,"size":4,"thickness":1},"encoding":{"x":{"field":"x","type":"quantitative","axis":null},"y":{"field":"lo","type":"quantitative","axis":null},"y2":{"field":"hi"}}},
{"data":{"values":[{"x":23.4,"y":-5.0}]},"mark":{"type":"point","shape":"circle","filled":false,"size":140,"color":"#3333ff","strokeWidth":1.2,"opacity":1},"encoding":{"x":{"field":"x","type":"quantitative","axis":{"orient":"top","tickCount":50,"labels":false,"tickSize":-5,"title":null}},"y":{"field":"y","type":"quantitative","axis":{"orient":"right","tickCount":27,"labels":false,"tickSize":-5,"title":null}}}},
{"data":{"values":[{"x":2.36,"y":-5.83,"t":"HII−03"}]},"mark":{"type":"text","font":"Liberation Serif","fontSize":24,"align":"left","baseline":"middle","color":"#111"},"encoding":{"x":{"field":"x","type":"quantitative","axis":null},"y":{"field":"y","type":"quantitative","axis":null},"text":{"field":"t"}}}
]},
{"width":347,"height":240,"resolve":{"axis":{"x":"independent","y":"independent"}},"layer":[
{"data":{"name":"s41"},"mark":{"type":"point","shape":"M-1,-1L1,1M-1,1L1,-1","size":64,"filled":false,"color":"#000","strokeWidth":1,"opacity":1,"clip":true},"encoding":{"x":{"field":"x","type":"quantitative","scale":{"domain":[1.35,53.4],"nice":false,"zero":false},"axis":{"tickCount":5,"title":null}},"y":{"field":"y","type":"quantitative","scale":{"domain":[-70,10],"nice":false,"zero":false},"axis":{"tickCount":4,"title":"VLSR (Hα) [km s⁻¹]"}}}},
{"data":{"values":[{"x":8.85}]},"mark":{"type":"rule","color":"#00e000","strokeWidth":1.6},"encoding":{"x":{"field":"x","type":"quantitative","axis":null}}},
{"data":{"values":[{"x":7.05}]},"mark":{"type":"rule","color":"#ff1a1a","strokeWidth":1.6},"encoding":{"x":{"field":"x","type":"quantitative","axis":null}}},
{"data":{"name":"l41"},"mark":{"type":"line","color":"#ff00ff","strokeWidth":1.5,"clip":true},"encoding":{"x":{"field":"x","type":"quantitative","axis":{"orient":"top","tickCount":5,"labels":false,"title":null}},"y":{"field":"y","type":"quantitative","axis":{"orient":"right","tickCount":4,"labels":false,"title":null}}}},
{"data":{"name":"m41"},"mark":{"type":"errorbar","color":"#ff00ff","ticks":true,"size":5,"thickness":1},"encoding":{"x":{"field":"x","type":"quantitative","axis":null},"y":{"field":"lo","type":"quantitative","axis":null},"y2":{"field":"hi"}}},
{"data":{"name":"m41"},"mark":{"type":"point","shape":"circle","filled":true,"size":200,"color":"#ff00ff","opacity":1},"encoding":{"x":{"field":"x","type":"quantitative","axis":{"orient":"bottom","tickCount":26,"labels":false,"tickSize":-5,"title":null}},"y":{"field":"y","type":"quantitative","axis":{"orient":"left","tickCount":16,"labels":false,"tickSize":-5,"title":null}}}},
{"data":{"values":[{"x":48.25,"y":2.0,"lo":1.0,"hi":3.0}]},"mark":{"type":"errorbar","color":"#3333ff","ticks":true,"size":4,"thickness":1},"encoding":{"x":{"field":"x","type":"quantitative","axis":null},"y":{"field":"lo","type":"quantitative","axis":null},"y2":{"field":"hi"}}},
{"data":{"values":[{"x":48.25,"y":2.0}]},"mark":{"type":"point","shape":"circle","filled":false,"size":140,"color":"#3333ff","strokeWidth":1.2,"opacity":1},"encoding":{"x":{"field":"x","type":"quantitative","axis":{"orient":"top","tickCount":26,"labels":false,"tickSize":-5,"title":null}},"y":{"field":"y","type":"quantitative","axis":{"orient":"right","tickCount":16,"labels":false,"tickSize":-5,"title":null}}}},
{"data":{"values":[{"x":4.2,"y":0.67,"t":"HII−04"}]},"mark":{"type":"text","font":"Liberation Serif","fontSize":24,"align":"left","baseline":"middle","color":"#111"},"encoding":{"x":{"field":"x","type":"quantitative","axis":null},"y":{"field":"y","type":"quantitative","axis":null},"text":{"field":"t"}}}
]},
{"width":347,"height":240,"resolve":{"axis":{"x":"independent","y":"independent"}},"layer":[
{"data":{"name":"s42"},"mark":{"type":"point","shape":"M-1,-1L1,1M-1,1L1,-1","size":64,"filled":false,"color":"#000","strokeWidth":1,"opacity":1,"clip":true},"encoding":{"x":{"field":"x","type":"quantitative","scale":{"domain":[1.35,53.4],"nice":false,"zero":false},"axis":{"tickCount":5,"title":null}},"y":{"field":"y","type":"quantitative","scale":{"domain":[-70,10],"nice":false,"zero":false},"axis":{"tickCount":4,"title":"VLSR (N2) [km s⁻¹]"}}}},
{"data":{"values":[{"x":8.85}]},"mark":{"type":"rule","color":"#00e000","strokeWidth":1.6},"encoding":{"x":{"field":"x","type":"quantitative","axis":null}}},
{"data":{"name":"l42"},"mark":{"type":"line","color":"#ff00ff","strokeWidth":1.5,"clip":true},"encoding":{"x":{"field":"x","type":"quantitative","axis":{"orient":"top","tickCount":5,"labels":false,"title":null}},"y":{"field":"y","type":"quantitative","axis":{"orient":"right","tickCount":4,"labels":false,"title":null}}}},
{"data":{"name":"m42"},"mark":{"type":"errorbar","color":"#ff00ff","ticks":true,"size":5,"thickness":1},"encoding":{"x":{"field":"x","type":"quantitative","axis":null},"y":{"field":"lo","type":"quantitative","axis":null},"y2":{"field":"hi"}}},
{"data":{"name":"m42"},"mark":{"type":"point","shape":"circle","filled":true,"size":200,"color":"#ff00ff","opacity":1},"encoding":{"x":{"field":"x","type":"quantitative","axis":{"orient":"bottom","tickCount":26,"labels":false,"tickSize":-5,"title":null}},"y":{"field":"y","type":"quantitative","axis":{"orient":"left","tickCount":16,"labels":false,"tickSize":-5,"title":null}}}},
{"data":{"values":[{"x":48.25,"y":2.0,"lo":0.0,"hi":4.0}]},"mark":{"type":"errorbar","color":"#3333ff","ticks":true,"size":4,"thickness":1},"encoding":{"x":{"field":"x","type":"quantitative","axis":null},"y":{"field":"lo","type":"quantitative","axis":null},"y2":{"field":"hi"}}},
{"data":{"values":[{"x":48.25,"y":2.0}]},"mark":{"type":"point","shape":"circle","filled":false,"size":140,"color":"#3333ff","strokeWidth":1.2,"opacity":1},"encoding":{"x":{"field":"x","type":"quantitative","axis":{"orient":"top","tickCount":26,"labels":false,"tickSize":-5,"title":null}},"y":{"field":"y","type":"quantitative","axis":{"orient":"right","tickCount":16,"labels":false,"tickSize":-5,"title":null}}}},
{"data":{"values":[{"x":4.2,"y":0.67,"t":"HII−04"}]},"mark":{"type":"text","font":"Liberation Serif","fontSize":24,"align":"left","baseline":"middle","color":"#111"},"encoding":{"x":{"field":"x","type":"quantitative","axis":null},"y":{"field":"y","type":"quantitative","axis":null},"text":{"field":"t"}}}
]},
{"width":347,"height":240,"resolve":{"axis":{"x":"independent","y":"independent"}},"layer":[
{"data":{"name":"s43"},"mark":{"type":"point","shape":"M-1,-1L1,1M-1,1L1,-1","size":64,"filled":false,"color":"#000","strokeWidth":1,"opacity":1,"clip":true},"encoding":{"x":{"field":"x","type":"quantitative","scale":{"domain":[1.35,53.4],"nice":false,"zero":false},"axis":{"tickCount":5,"title":null}},"y":{"field":"y","type":"quantitative","scale":{"domain":[-70,10],"nice":false,"zero":false},"axis":{"tickCount":4,"title":"VLSR (S2) [km s⁻¹]"}}}},
{"data":{"values":[{"x":8.85}]},"mark":{"type":"rule","color":"#00e000","strokeWidth":1.6},"encoding":{"x":{"field":"x","type":"quantitative","axis":null}}},
{"data":{"name":"l43"},"mark":{"type":"line","color":"#ff00ff","strokeWidth":1.5,"clip":true},"encoding":{"x":{"field":"x","type":"quantitative","axis":{"orient":"top","tickCount":5,"labels":false,"title":null}},"y":{"field":"y","type":"quantitative","axis":{"orient":"right","tickCount":4,"labels":false,"title":null}}}},
{"data":{"name":"m43"},"mark":{"type":"errorbar","color":"#ff00ff","ticks":true,"size":5,"thickness":1},"encoding":{"x":{"field":"x","type":"quantitative","axis":null},"y":{"field":"lo","type":"quantitative","axis":null},"y2":{"field":"hi"}}},
{"data":{"name":"m43"},"mark":{"type":"point","shape":"circle","filled":true,"size":200,"color":"#ff00ff","opacity":1},"encoding":{"x":{"field":"x","type":"quantitative","axis":{"orient":"bottom","tickCount":26,"labels":false,"tickSize":-5,"title":null}},"y":{"field":"y","type":"quantitative","axis":{"orient":"left","tickCount":16,"labels":false,"tickSize":-5,"title":null}}}},
{"data":{"values":[{"x":48.25,"y":2.0,"lo":-0.3,"hi":4.3}]},"mark":{"type":"errorbar","color":"#3333ff","ticks":true,"size":4,"thickness":1},"encoding":{"x":{"field":"x","type":"quantitative","axis":null},"y":{"field":"lo","type":"quantitative","axis":null},"y2":{"field":"hi"}}},
{"data":{"values":[{"x":48.25,"y":2.0}]},"mark":{"type":"point","shape":"circle","filled":false,"size":140,"color":"#3333ff","strokeWidth":1.2,"opacity":1},"encoding":{"x":{"field":"x","type":"quantitative","axis":{"orient":"top","tickCount":26,"labels":false,"tickSize":-5,"title":null}},"y":{"field":"y","type":"quantitative","axis":{"orient":"right","tickCount":16,"labels":false,"tickSize":-5,"title":null}}}},
{"data":{"values":[{"x":4.2,"y":0.67,"t":"HII−04"}]},"mark":{"type":"text","font":"Liberation Serif","fontSize":24,"align":"left","baseline":"middle","color":"#111"},"encoding":{"x":{"field":"x","type":"quantitative","axis":null},"y":{"field":"y","type":"quantitative","axis":null},"text":{"field":"t"}}}
]},
{"width":347,"height":240,"resolve":{"axis":{"x":"independent","y":"independent"}},"layer":[
{"data":{"name":"s51"},"mark":{"type":"point","shape":"M-1,-1L1,1M-1,1L1,-1","size":64,"filled":false,"color":"#000","strokeWidth":1,"opacity":1,"clip":true},"encoding":{"x":{"field":"x","type":"quantitative","scale":{"domain":[1.4,49.3],"nice":false,"zero":false},"axis":{"tickCount":5,"title":null}},"y":{"field":"y","type":"quantitative","scale":{"domain":[-60,-10],"nice":false,"zero":false},"axis":{"tickCount":5,"title":"VLSR (Hα) [km s⁻¹]"}}}},
{"data":{"values":[{"x":8.33}]},"mark":{"type":"rule","color":"#00e000","strokeWidth":1.6},"encoding":{"x":{"field":"x","type":"quantitative","axis":null}}},
{"data":{"values":[{"x":25.3}]},"mark":{"type":"rule","color":"#ff1a1a","strokeWidth":1.6},"encoding":{"x":{"field":"x","type":"quantitative","axis":null}}},
{"data":{"name":"l51"},"mark":{"type":"line","color":"#ff00ff","strokeWidth":1.5,"clip":true},"encoding":{"x":{"field":"x","type":"quantitative","axis":{"orient":"top","tickCount":5,"labels":false,"title":null}},"y":{"field":"y","type":"quantitative","axis":{"orient":"right","tickCount":5,"labels":false,"title":null}}}},
{"data":{"name":"m51"},"mark":{"type":"errorbar","color":"#ff00ff","ticks":true,"size":5,"thickness":1},"encoding":{"x":{"field":"x","type":"quantitative","axis":null},"y":{"field":"lo","type":"quantitative","axis":null},"y2":{"field":"hi"}}},
{"data":{"name":"m51"},"mark":{"type":"point","shape":"circle","filled":true,"size":200,"color":"#ff00ff","opacity":1},"encoding":{"x":{"field":"x","type":"quantitative","axis":{"orient":"bottom","tickCount":24,"labels":false,"tickSize":-5,"title":null}},"y":{"field":"y","type":"quantitative","axis":{"orient":"left","tickCount":27,"labels":false,"tickSize":-5,"title":null}}}},
{"data":{"values":[{"x":44.6,"y":-15,"lo":-15.6,"hi":-14.4}]},"mark":{"type":"errorbar","color":"#3333ff","ticks":true,"size":4,"thickness":1},"encoding":{"x":{"field":"x","type":"quantitative","axis":null},"y":{"field":"lo","type":"quantitative","axis":null},"y2":{"field":"hi"}}},
{"data":{"values":[{"x":44.6,"y":-15}]},"mark":{"type":"point","shape":"circle","filled":false,"size":140,"color":"#3333ff","strokeWidth":1.2,"opacity":1},"encoding":{"x":{"field":"x","type":"quantitative","axis":{"orient":"top","tickCount":24,"labels":false,"tickSize":-5,"title":null}},"y":{"field":"y","type":"quantitative","axis":{"orient":"right","tickCount":27,"labels":false,"tickSize":-5,"title":null}}}},
{"data":{"values":[{"x":4.02,"y":-15.83,"t":"HII−05"}]},"mark":{"type":"text","font":"Liberation Serif","fontSize":24,"align":"left","baseline":"middle","color":"#111"},"encoding":{"x":{"field":"x","type":"quantitative","axis":null},"y":{"field":"y","type":"quantitative","axis":null},"text":{"field":"t"}}}
]},
{"width":347,"height":240,"resolve":{"axis":{"x":"independent","y":"independent"}},"layer":[
{"data":{"name":"s52"},"mark":{"type":"point","shape":"M-1,-1L1,1M-1,1L1,-1","size":64,"filled":false,"color":"#000","strokeWidth":1,"opacity":1,"clip":true},"encoding":{"x":{"field":"x","type":"quantitative","scale":{"domain":[1.4,49.3],"nice":false,"zero":false},"axis":{"tickCount":5,"title":null}},"y":{"field":"y","type":"quantitative","scale":{"domain":[-60,-10],"nice":false,"zero":false},"axis":{"tickCount":5,"title":"VLSR (N2) [km s⁻¹]"}}}},
{"data":{"values":[{"x":8.33}]},"mark":{"type":"rule","color":"#00e000","strokeWidth":1.6},"encoding":{"x":{"field":"x","type":"quantitative","axis":null}}},
{"data":{"name":"l52"},"mark":{"type":"line","color":"#ff00ff","strokeWidth":1.5,"clip":true},"encoding":{"x":{"field":"x","type":"quantitative","axis":{"orient":"top","tickCount":5,"labels":false,"title":null}},"y":{"field":"y","type":"quantitative","axis":{"orient":"right","tickCount":5,"labels":false,"title":null}}}},
{"data":{"name":"m52"},"mark":{"type":"errorbar","color":"#ff00ff","ticks":true,"size":5,"thickness":1},"encoding":{"x":{"field":"x","type":"quantitative","axis":null},"y":{"field":"lo","type":"quantitative","axis":null},"y2":{"field":"hi"}}},
{"data":{"name":"m52"},"mark":{"type":"point","shape":"circle","filled":true,"size":200,"color":"#ff00ff","opacity":1},"encoding":{"x":{"field":"x","type":"quantitative","axis":{"orient":"bottom","tickCount":24,"labels":false,"tickSize":-5,"title":null}},"y":{"field":"y","type":"quantitative","axis":{"orient":"left","tickCount":27,"labels":false,"tickSize":-5,"title":null}}}},
{"data":{"values":[{"x":44.6,"y":-15,"lo":-16.3,"hi":-13.7}]},"mark":{"type":"errorbar","color":"#3333ff","ticks":true,"size":4,"thickness":1},"encoding":{"x":{"field":"x","type":"quantitative","axis":null},"y":{"field":"lo","type":"quantitative","axis":null},"y2":{"field":"hi"}}},
{"data":{"values":[{"x":44.6,"y":-15}]},"mark":{"type":"point","shape":"circle","filled":false,"size":140,"color":"#3333ff","strokeWidth":1.2,"opacity":1},"encoding":{"x":{"field":"x","type":"quantitative","axis":{"orient":"top","tickCount":24,"labels":false,"tickSize":-5,"title":null}},"y":{"field":"y","type":"quantitative","axis":{"orient":"right","tickCount":27,"labels":false,"tickSize":-5,"title":null}}}},
{"data":{"values":[{"x":4.02,"y":-15.83,"t":"HII−05"}]},"mark":{"type":"text","font":"Liberation Serif","fontSize":24,"align":"left","baseline":"middle","color":"#111"},"encoding":{"x":{"field":"x","type":"quantitative","axis":null},"y":{"field":"y","type":"quantitative","axis":null},"text":{"field":"t"}}}
]},
{"width":347,"height":240,"resolve":{"axis":{"x":"independent","y":"independent"}},"layer":[
{"data":{"name":"s53"},"mark":{"type":"point","shape":"M-1,-1L1,1M-1,1L1,-1","size":64,"filled":false,"color":"#000","strokeWidth":1,"opacity":1,"clip":true},"encoding":{"x":{"field":"x","type":"quantitative","scale":{"domain":[1.4,49.3],"nice":false,"zero":false},"axis":{"tickCount":5,"title":null}},"y":{"field":"y","type":"quantitative","scale":{"domain":[-60,-10],"nice":false,"zero":false},"axis":{"tickCount":5,"title":"VLSR (S2) [km s⁻¹]"}}}},
{"data":{"values":[{"x":8.33}]},"mark":{"type":"rule","color":"#00e000","strokeWidth":1.6},"encoding":{"x":{"field":"x","type":"quantitative","axis":null}}},
{"data":{"name":"l53"},"mark":{"type":"line","color":"#ff00ff","strokeWidth":1.5,"clip":true},"encoding":{"x":{"field":"x","type":"quantitative","axis":{"orient":"top","tickCount":5,"labels":false,"title":null}},"y":{"field":"y","type":"quantitative","axis":{"orient":"right","tickCount":5,"labels":false,"title":null}}}},
{"data":{"name":"m53"},"mark":{"type":"errorbar","color":"#ff00ff","ticks":true,"size":5,"thickness":1},"encoding":{"x":{"field":"x","type":"quantitative","axis":null},"y":{"field":"lo","type":"quantitative","axis":null},"y2":{"field":"hi"}}},
{"data":{"name":"m53"},"mark":{"type":"point","shape":"circle","filled":true,"size":200,"color":"#ff00ff","opacity":1},"encoding":{"x":{"field":"x","type":"quantitative","axis":{"orient":"bottom","tickCount":24,"labels":false,"tickSize":-5,"title":null}},"y":{"field":"y","type":"quantitative","axis":{"orient":"left","tickCount":27,"labels":false,"tickSize":-5,"title":null}}}},
{"data":{"values":[{"x":44.6,"y":-15,"lo":-17.1,"hi":-12.9}]},"mark":{"type":"errorbar","color":"#3333ff","ticks":true,"size":4,"thickness":1},"encoding":{"x":{"field":"x","type":"quantitative","axis":null},"y":{"field":"lo","type":"quantitative","axis":null},"y2":{"field":"hi"}}},
{"data":{"values":[{"x":44.6,"y":-15}]},"mark":{"type":"point","shape":"circle","filled":false,"size":140,"color":"#3333ff","strokeWidth":1.2,"opacity":1},"encoding":{"x":{"field":"x","type":"quantitative","axis":{"orient":"top","tickCount":24,"labels":false,"tickSize":-5,"title":null}},"y":{"field":"y","type":"quantitative","axis":{"orient":"right","tickCount":27,"labels":false,"tickSize":-5,"title":null}}}},
{"data":{"values":[{"x":4.02,"y":-15.83,"t":"HII−05"}]},"mark":{"type":"text","font":"Liberation Serif","fontSize":24,"align":"left","baseline":"middle","color":"#111"},"encoding":{"x":{"field":"x","type":"quantitative","axis":null},"y":{"field":"y","type":"quantitative","axis":null},"text":{"field":"t"}}}
]}
],
"config":{
"view":{"stroke":"#222","strokeWidth":1.2},
"axis":{"domain":false,"grid":false,"ticks":true,"tickSize":-10,"tickColor":"#333","tickWidth":1,"labelFont":"Liberation Sans","labelFontSize":22,"labelColor":"#444","labelOverlap":false,"labelFlush":true,"labelExpr":"replace(datum.label,'−','− ')","titleFont":"Liberation Serif","titleFontSize":26,"titleFontWeight":"normal","titleColor":"#111"},
"axisX":{"labelPadding":24},
"axisY":{"labelPadding":17,"titlePadding":14}
}
}
